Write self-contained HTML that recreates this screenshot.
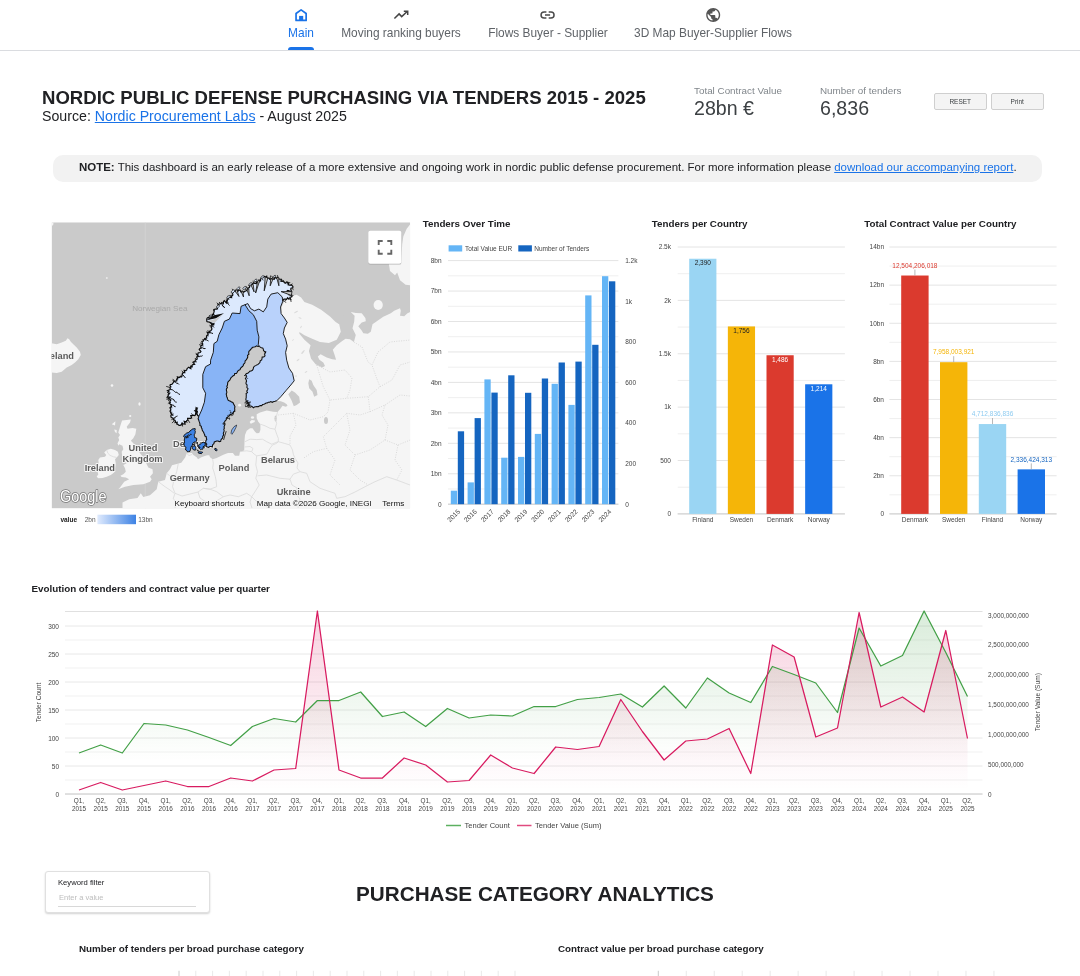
<!DOCTYPE html>
<html><head><meta charset="utf-8">
<style>
*{box-sizing:border-box;margin:0;padding:0}
html,body{width:1080px;height:976px;overflow:hidden;background:#fff;font-family:"Liberation Sans",sans-serif;color:#202124}
.abs{position:absolute}
#nav{position:absolute;left:0;top:0;width:1080px;height:51px;border-bottom:1px solid #dadce0;background:#fff}
.tab{position:absolute;top:0;height:50px;text-align:center;font-size:11.9px;color:#5f6368;white-space:nowrap}
.tab span{position:absolute;left:0;right:0;top:26px;line-height:14px;letter-spacing:0}
.tab svg{position:absolute;top:7px;left:50%;margin-left:-8px;width:16px;height:16px}
h1{position:absolute;left:42px;top:87px;font-size:18.57px;line-height:22px;font-weight:bold;letter-spacing:0;color:#202124;white-space:nowrap}
#src{position:absolute;left:42px;top:108px;font-size:14.18px;line-height:17px;color:#202124;white-space:nowrap}
a{color:#1a73e8;text-decoration:underline}
.kl{position:absolute;font-size:9.85px;color:#80868b;white-space:nowrap;line-height:12px}
.kv{position:absolute;font-size:19.6px;color:#3c4043;white-space:nowrap;line-height:22px}
.btn{position:absolute;top:92.5px;height:17px;width:52.5px;border:1px solid #cfcfcf;border-radius:2px;background:#f4f4f4;font-size:6.5px;color:#3c4043;text-align:center;line-height:15px}
#note{position:absolute;left:53px;top:155px;width:989px;height:27px;border-radius:10px;background:#f2f2f2;font-size:11.47px;line-height:25px;padding-left:26px;color:#202124;white-space:nowrap}
.ct{position:absolute;font-size:10px;font-weight:bold;color:#202124;white-space:nowrap;line-height:12px;letter-spacing:.1px}
</style></head><body>
<div id="wrap" style="position:absolute;left:0;top:0;width:1080px;height:976px;will-change:transform;transform:translateZ(0)"><div id="nav">
 <div class="tab" style="left:288px;width:26px;color:#1a73e8"><span>Main</span></div>
 <div class="abs" style="left:288px;top:47px;width:26px;height:3px;background:#1a73e8;border-radius:3px 3px 0 0"></div>
 <div class="tab" style="left:341px;width:120px"><span>Moving ranking buyers</span></div>
 <div class="tab" style="left:488px;width:120px"><span>Flows Buyer - Supplier</span></div>
 <div class="tab" style="left:634px;width:158px;font-size:11.9px"><span>3D Map Buyer-Supplier Flows</span></div>
</div>
<h1>NORDIC PUBLIC DEFENSE PURCHASING VIA TENDERS 2015 - 2025</h1>
<div id="src">Source: <a>Nordic Procurement Labs</a> - August 2025</div>
<div class="kl" style="left:694px;top:85px">Total Contract Value</div>
<div class="kv" style="left:694px;top:97px">28bn €</div>
<div class="kl" style="left:820px;top:85px">Number of tenders</div>
<div class="kv" style="left:820px;top:97px">6,836</div>
<div class="btn" style="left:934px">RESET</div>
<div class="btn" style="left:991px">Print</div>
<div id="note"><b>NOTE:</b> This dashboard is an early release of a more extensive and ongoing work in nordic public defense procurement. For more information please <a>download our accompanying report</a>.</div>
<svg class="abs" style="left:0;top:0" width="1080" height="976" viewBox="0 0 1080 976" font-family="Liberation Sans, sans-serif"><defs><clipPath id="mc"><rect x="51.6" y="222.3" width="358.59999999999997" height="286.09999999999997"/></clipPath></defs><g clip-path="url(#mc)"><rect x="51.6" y="222.3" width="358.59999999999997" height="286.09999999999997" fill="#cacaca"/>
<line x1="145.3" y1="222.3" x2="145.3" y2="508.4" stroke="#d6d6d6" stroke-width="0.6"/>
<path d="M122.5 508.4 L122.5 502.5 L129.2 499.2 L137.5 498.0 L140.8 493.3 L143.3 497.0 L150.0 495.3 L156.7 489.2 L158.3 481.7 L165.0 480.0 L166.7 473.3 L170.0 469.3 L172.0 465.3 L176.7 464.0 L181.3 462.7 L185.3 457.3 L186.7 453.3 L192.0 453.0 L193.0 454.7 L196.7 457.3 L198.0 459.3 L201.3 457.3 L204.7 456.0 L207.3 455.3 L209.3 455.3 L210.0 457.3 L212.7 459.3 L216.7 458.0 L223.3 454.7 L228.0 453.0 L232.9 452.9 L235.0 455.8 L239.2 455.8 L240.0 451.7 L244.2 450.4 L244.6 439.2 L245.0 435.0 L246.7 430.8 L250.0 428.3 L252.5 428.3 L255.0 431.7 L256.7 433.3 L259.2 432.9 L260.4 430.0 L260.4 424.2 L258.3 421.7 L256.7 418.3 L256.7 414.2 L260.0 412.5 L266.7 410.4 L273.3 411.7 L277.5 412.1 L280.8 408.3 L282.5 405.8 L285.8 406.7 L287.5 405.8 L286.7 404.2 L284.2 402.5 L280.8 401.3 L276.7 400.8 L275.0 380.0 L270.0 330.0 L285.0 300.0 L292.5 295.8 L296.7 294.8 L301.1 297.6 L304.4 302.0 L312.2 304.8 L321.1 309.8 L330.0 316.4 L335.6 322.0 L339.2 324.2 L350.8 312.1 L355.8 312.9 L361.7 313.3 L365.4 317.9 L365.8 321.3 L361.7 322.5 L358.3 326.3 L361.7 330.4 L363.3 333.3 L367.9 333.8 L370.8 331.7 L372.5 324.2 L377.5 320.8 L383.3 316.7 L390.8 313.3 L394.2 310.8 L400.0 308.3 L400.8 310.8 L400.0 315.8 L404.2 316.3 L407.5 313.3 L410.2 312.1 L410.2 508.4Z" fill="#f5f5f5" stroke="none" stroke-width="0" stroke-linejoin="round" />
<path d="M122.1 420.4 L126.7 420.0 L130.8 419.6 L130.0 422.5 L126.7 426.7 L127.5 428.8 L132.5 427.9 L136.3 428.8 L135.4 434.2 L133.3 438.3 L130.8 440.8 L133.3 443.3 L136.7 447.5 L140.0 453.3 L144.2 458.3 L146.7 464.2 L148.3 467.5 L152.5 469.2 L152.9 473.3 L150.0 476.7 L151.7 479.2 L150.0 481.7 L143.3 484.2 L133.3 485.0 L125.0 486.7 L118.3 489.2 L120.0 487.5 L124.2 481.7 L129.2 479.2 L125.8 477.5 L121.7 477.1 L120.4 475.8 L123.3 474.2 L125.8 471.7 L125.0 468.3 L123.3 465.0 L126.7 463.3 L122.5 460.0 L121.7 451.7 L123.3 449.2 L122.5 445.8 L119.2 444.2 L118.3 445.8 L117.5 443.3 L119.2 440.0 L118.3 437.5 L120.0 435.0 L118.3 432.5 L119.6 428.3 L120.8 424.2Z" fill="#f5f5f5" stroke="none" stroke-width="0" stroke-linejoin="round" />
<path d="M104.2 452.5 L106.7 450.0 L110.8 448.8 L115.0 450.0 L117.9 451.7 L118.8 455.0 L116.7 457.5 L115.0 459.2 L115.8 463.3 L115.0 468.3 L114.2 472.5 L110.8 475.0 L106.7 476.7 L102.5 477.9 L98.3 478.3 L96.7 476.7 L98.3 474.2 L97.5 471.7 L99.2 468.3 L98.3 460.0 L100.0 457.5 L105.0 456.7 L106.3 455.0Z" fill="#f5f5f5" stroke="none" stroke-width="0" stroke-linejoin="round" />
<path d="M51.6 343.3 L56.7 344.2 L61.7 342.5 L65.8 340.8 L67.5 338.3 L69.2 339.2 L70.8 341.7 L73.3 344.2 L76.7 347.5 L80.0 351.7 L80.8 355.0 L78.3 359.2 L75.0 362.5 L71.7 365.0 L66.7 367.5 L61.7 371.7 L56.7 373.0 L51.6 372.5Z" fill="#f5f5f5" stroke="none" stroke-width="0" stroke-linejoin="round" />
<path d="M410.2 224.2 L406.7 228.7 L403.3 236.4 L402.2 244.2 L401.1 264.2 L388.9 264.2 L390.0 270.9 L395.0 275.3 L397.2 272.6 L400.0 280.3 L405.6 284.8 L410.2 285.3Z" fill="#f5f5f5" stroke="none" stroke-width="0" stroke-linejoin="round" />
<path d="M249.6 422.1 L251.7 420.0 L255.0 420.4 L254.6 422.1 L250.8 423.8Z" fill="#f5f5f5" stroke="none" stroke-width="0" stroke-linejoin="round" />
<path d="M339.2 324.2 L340.8 331.7 L338.3 336.7 L336.7 339.8 L328.9 343.1 L320.0 342.0 L312.2 338.7 L304.4 335.3 L299.4 332.0 L299.4 333.7 L304.4 339.8 L310.6 345.3 L308.9 350.9 L311.1 358.7 L315.6 364.2 L322.2 367.6 L325.0 365.9 L323.3 362.6 L319.4 359.8 L317.8 356.4 L320.6 354.2 L326.7 357.6 L332.2 359.2 L336.1 359.8 L334.4 354.2 L332.8 349.8 L336.7 345.3 L342.2 340.9 L345.6 338.7 L350.0 339.2 L353.9 342.0 L355.8 335.0 L352.5 328.3 L354.2 321.7 L354.6 315.8 L350.8 312.1 L349.5 309.5 L337.5 321.5Z" fill="#cacaca" stroke="none" stroke-width="0" stroke-linejoin="round" />
<path d="M288.3 394.2 L291.7 390.4 L295.0 392.5 L299.2 396.7 L300.0 402.5 L296.7 405.0 L293.8 406.3 L291.7 400.8Z" fill="#cacaca" stroke="none" stroke-width="0" stroke-linejoin="round" />
<path d="M309.2 379.2 L311.7 380.8 L313.3 385.0 L316.7 390.0 L317.5 395.0 L314.2 396.7 L312.5 391.7 L309.2 388.3 L308.3 383.3Z" fill="#cacaca" stroke="none" stroke-width="0" stroke-linejoin="round" />
<ellipse cx="296" cy="312" rx="2.2" ry="0.6" fill="#dadada" transform="rotate(-30 296 312)"/>
<ellipse cx="300" cy="318" rx="1.6" ry="0.5" fill="#dadada" transform="rotate(20 300 318)"/>
<ellipse cx="303" cy="352" rx="2.5" ry="0.8" fill="#dadada" transform="rotate(-50 303 352)"/>
<ellipse cx="298" cy="360" rx="1.8" ry="0.6" fill="#dadada" transform="rotate(-40 298 360)"/>
<ellipse cx="306" cy="372" rx="1.5" ry="0.5" fill="#dadada" transform="rotate(-30 306 372)"/>
<ellipse cx="296" cy="376" rx="1.2" ry="0.5" fill="#dadada" transform="rotate(0 296 376)"/>
<ellipse cx="301" cy="327" rx="1.4" ry="0.5" fill="#dadada" transform="rotate(-60 301 327)"/>
<ellipse cx="293" cy="340" rx="1.2" ry="0.4" fill="#dadada" transform="rotate(-50 293 340)"/>
<ellipse cx="378.2" cy="305" rx="4.6" ry="5" fill="#f5f5f5"/>
<ellipse cx="252.5" cy="417.5" rx="1.6" ry="1.2" fill="#f5f5f5"/>
<ellipse cx="239.6" cy="405.2" rx="1.5" ry="1.4" fill="#f5f5f5"/>
<ellipse cx="275.6" cy="418.5" rx="1.1" ry="3" fill="#cacaca"/>
<ellipse cx="326" cy="420.5" rx="2" ry="3.5" fill="#cacaca"/>
<ellipse cx="106.8" cy="278" rx="1" ry="0.7" fill="#f5f5f5"/>
<ellipse cx="112" cy="385.5" rx="1.3" ry="1.3" fill="#f5f5f5"/>
<ellipse cx="139.5" cy="404" rx="1.1" ry="1.7" fill="#f5f5f5"/>
<ellipse cx="130.2" cy="416" rx="1.1" ry="0.9" fill="#f5f5f5"/>
<path d="M111.8 424.2 L115.4 421.3 L115.0 425.4Z" fill="#f5f5f5" stroke="none" stroke-width="0" stroke-linejoin="round" />
<path d="M114.2 429.6 L116.7 430.0 L116.7 433.3 L115.0 432.0Z" fill="#f5f5f5" stroke="none" stroke-width="0" stroke-linejoin="round" />
<path d="M51.6 222.3 L53.6 222.3 L53.2 225.0 L51.6 226.0Z" fill="#f5f5f5" stroke="none" stroke-width="0" stroke-linejoin="round" />
<path d="M260.4 424.2 L265.0 425.8 L270.0 428.3 L275.0 429.2" fill="none" stroke="#d9d9d9" stroke-width="0.8" stroke-linejoin="round"/>
<path d="M277.5 412.1 L276.3 416.7 L275.0 418.3 L276.7 423.3 L275.0 429.2" fill="none" stroke="#d9d9d9" stroke-width="0.8" stroke-linejoin="round"/>
<path d="M245.0 441.7 L250.0 439.2 L256.7 439.6 L262.5 439.2 L266.7 441.7 L271.7 444.2 L275.8 442.5 L278.3 441.7" fill="none" stroke="#d9d9d9" stroke-width="0.8" stroke-linejoin="round"/>
<path d="M275.0 429.2 L276.7 434.2 L278.3 438.3 L278.3 441.7" fill="none" stroke="#d9d9d9" stroke-width="0.8" stroke-linejoin="round"/>
<path d="M278.3 441.7 L276.7 443.3 L272.5 445.0 L270.0 448.3 L268.3 451.7 L266.7 454.2 L262.0 455.0 L256.7 455.8" fill="none" stroke="#d9d9d9" stroke-width="0.8" stroke-linejoin="round"/>
<path d="M240.0 451.7 L246.7 450.8 L251.7 451.7 L254.2 454.2 L256.7 455.8" fill="none" stroke="#d9d9d9" stroke-width="0.8" stroke-linejoin="round"/>
<path d="M244.5 447.0 L250.0 446.5 L253.0 448.5 L251.7 451.7" fill="none" stroke="#d9d9d9" stroke-width="0.8" stroke-linejoin="round"/>
<path d="M278.3 441.7 L284.2 443.3 L290.0 445.0 L292.5 450.0 L293.3 454.2 L295.0 458.3 L298.0 463.0 L297.0 468.0 L300.0 471.7" fill="none" stroke="#d9d9d9" stroke-width="0.8" stroke-linejoin="round"/>
<path d="M256.7 455.8 L255.8 465.0 L257.5 471.7 L255.8 478.3 L259.2 485.0 L255.0 491.7 L251.7 496.7" fill="none" stroke="#d9d9d9" stroke-width="0.8" stroke-linejoin="round"/>
<path d="M257.5 475.8 L266.7 475.0 L280.0 478.3 L290.0 479.2 L293.3 474.2 L300.0 471.7 L306.7 473.3 L310.0 481.7 L320.0 488.3 L330.0 491.7 L335.0 493.3" fill="none" stroke="#d9d9d9" stroke-width="0.8" stroke-linejoin="round"/>
<path d="M335.0 493.3 L336.7 498.3 L345.0 496.7 L355.0 492.0 L368.3 485.0 L375.0 481.7 L386.7 476.7 L396.7 480.0 L410.0 485.0" fill="none" stroke="#d9d9d9" stroke-width="0.8" stroke-linejoin="round"/>
<path d="M212.7 459.3 L213.3 463.3 L212.7 468.0 L214.0 472.0 L215.3 476.7 L216.0 480.0 L216.7 486.7 L210.0 489.2 L203.3 488.3" fill="none" stroke="#d9d9d9" stroke-width="0.8" stroke-linejoin="round"/>
<path d="M178.3 463.3 L176.7 471.7 L174.2 478.3 L172.5 486.7 L175.0 493.3 L173.3 498.3 L176.0 503.0 L175.0 508.0" fill="none" stroke="#d9d9d9" stroke-width="0.8" stroke-linejoin="round"/>
<path d="M158.3 481.7 L165.0 486.7 L170.0 490.0 L174.2 493.3" fill="none" stroke="#d9d9d9" stroke-width="0.8" stroke-linejoin="round"/>
<path d="M166.7 473.3 L170.0 476.0 L174.2 478.3" fill="none" stroke="#d9d9d9" stroke-width="0.8" stroke-linejoin="round"/>
<path d="M203.3 488.3 L210.0 489.2 L216.7 491.7 L223.3 496.7 L230.0 495.0 L238.3 496.7 L246.7 493.3 L251.7 496.7 L256.0 501.0 L262.0 503.0 L268.0 508.0" fill="none" stroke="#d9d9d9" stroke-width="0.8" stroke-linejoin="round"/>
<path d="M203.3 488.3 L198.0 492.0 L200.0 498.0 L206.0 502.0 L212.0 503.0 L218.0 500.0 L223.3 496.7" fill="none" stroke="#d9d9d9" stroke-width="0.8" stroke-linejoin="round"/>
<path d="M175.0 493.3 L182.0 496.0 L190.0 494.0 L198.0 492.0" fill="none" stroke="#d9d9d9" stroke-width="0.8" stroke-linejoin="round"/>
<path d="M186.7 453.3 L189.0 455.5 L192.0 454.5" fill="none" stroke="#d9d9d9" stroke-width="0.8" stroke-linejoin="round"/>
<path d="M106.7 450.0 L107.9 453.3 L110.0 455.4 L113.3 456.7 L116.7 457.5" fill="none" stroke="#d9d9d9" stroke-width="0.8" stroke-linejoin="round"/>
<path d="M251.7 496.7 L250.0 502.0 L252.0 508.0" fill="none" stroke="#d9d9d9" stroke-width="0.8" stroke-linejoin="round"/>
<path d="M290.0 479.2 L292.0 485.0 L297.0 488.0 L296.0 494.0 L300.0 499.0 L298.0 508.0" fill="none" stroke="#d9d9d9" stroke-width="0.8" stroke-linejoin="round"/>
<path d="M316.7 365.0 L323.3 386.7 L330.0 400.0 L346.7 398.3 L368.3 396.7 L380.0 386.7 L376.7 378.3" fill="none" stroke="#d2d2d2" stroke-width="0.8" stroke-linejoin="round" stroke-dasharray="1 1.4"/>
<path d="M278.3 415.0 L293.3 413.3 L310.0 420.0 L323.3 416.7" fill="none" stroke="#d2d2d2" stroke-width="0.8" stroke-linejoin="round" stroke-dasharray="1 1.4"/>
<path d="M368.3 396.7 L370.0 411.7 L360.0 415.0 L346.7 413.3 L340.0 420.0 L323.3 436.7 L326.7 448.3 L313.3 451.7 L303.3 458.3" fill="none" stroke="#d2d2d2" stroke-width="0.8" stroke-linejoin="round" stroke-dasharray="1 1.4"/>
<path d="M330.0 400.0 L328.0 412.0 L323.3 416.7" fill="none" stroke="#d2d2d2" stroke-width="0.8" stroke-linejoin="round" stroke-dasharray="1 1.4"/>
<path d="M346.7 413.3 L350.0 430.0 L345.0 445.0 L355.0 455.0 L350.0 470.0 L360.0 480.0 L368.3 485.0" fill="none" stroke="#d2d2d2" stroke-width="0.8" stroke-linejoin="round" stroke-dasharray="1 1.4"/>
<path d="M370.0 411.7 L385.0 405.0 L400.0 395.0 L410.2 396.0" fill="none" stroke="#d2d2d2" stroke-width="0.8" stroke-linejoin="round" stroke-dasharray="1 1.4"/>
<path d="M380.0 386.7 L392.0 380.0 L400.0 365.0 L410.2 362.0" fill="none" stroke="#d2d2d2" stroke-width="0.8" stroke-linejoin="round" stroke-dasharray="1 1.4"/>
<path d="M376.7 378.3 L372.0 365.0 L378.0 352.0 L390.0 342.0 L410.2 340.0" fill="none" stroke="#d2d2d2" stroke-width="0.8" stroke-linejoin="round" stroke-dasharray="1 1.4"/>
<path d="M355.0 455.0 L370.0 450.0 L385.0 440.0 L398.0 445.0 L410.2 440.0" fill="none" stroke="#d2d2d2" stroke-width="0.8" stroke-linejoin="round" stroke-dasharray="1 1.4"/>
<path d="M385.0 440.0 L388.0 425.0 L382.0 415.0 L385.0 405.0" fill="none" stroke="#d2d2d2" stroke-width="0.8" stroke-linejoin="round" stroke-dasharray="1 1.4"/>
<path d="M326.7 448.3 L335.0 460.0 L330.0 475.0 L340.0 485.0" fill="none" stroke="#d2d2d2" stroke-width="0.8" stroke-linejoin="round" stroke-dasharray="1 1.4"/>
<path d="M293.3 413.3 L296.0 425.0 L290.0 436.0 L290.0 445.0" fill="none" stroke="#d2d2d2" stroke-width="0.8" stroke-linejoin="round" stroke-dasharray="1 1.4"/>
<path d="M398.0 445.0 L395.0 460.0 L402.0 470.0 L396.7 480.0" fill="none" stroke="#d2d2d2" stroke-width="0.8" stroke-linejoin="round" stroke-dasharray="1 1.4"/>
<path d="M353.9 342.0 L362.0 347.0 L368.0 362.0 L372.0 365.0" fill="none" stroke="#d2d2d2" stroke-width="0.8" stroke-linejoin="round" stroke-dasharray="1 1.4"/>
<path d="M316.7 365.0 L330.0 372.0 L345.0 370.0 L352.0 378.0 L350.0 390.0 L346.7 398.3" fill="none" stroke="#d2d2d2" stroke-width="0.8" stroke-linejoin="round" stroke-dasharray="1 1.4"/>
<text x="173" y="447" font-size="9.25" font-weight="bold" text-anchor="start" fill="#5b5b5b" stroke="#f5f5f5" stroke-width="2" paint-order="stroke" stroke-linejoin="round">Denmark</text>
<path d="M198.9 416.1 L197.7 415.6 L197.2 414.4 L196.0 413.5 L197.3 412.1 L195.4 411.3 L196.6 410.0 L195.9 409.0 L196.1 407.8 L197.3 409.0 L195.9 410.0 L197.2 411.2 L195.9 412.2 L195.6 413.3 L195.5 414.9 L194.6 415.5 L193.2 415.2 L192.2 415.6 L190.8 415.6 L191.5 417.9 L190.6 418.4 L189.0 418.3 L187.6 418.3 L187.8 420.0 L186.7 420.6 L186.2 421.8 L184.2 421.3 L185.1 424.1 L183.3 423.9 L182.1 422.9 L181.2 424.7 L180.1 425.3 L179.0 425.4 L177.8 424.4 L176.7 424.0 L177.2 422.2 L175.1 422.6 L175.4 421.1 L174.9 420.2 L173.6 419.9 L173.3 418.9 L173.0 417.9 L171.3 417.5 L170.9 416.5 L170.9 415.4 L171.9 413.9 L170.8 413.2 L170.6 412.2 L170.0 411.1 L170.9 410.0 L170.5 408.9 L170.0 407.7 L171.5 406.6 L171.2 405.5 L170.6 404.4 L169.6 403.6 L170.3 402.4 L169.9 401.4 L170.7 400.2 L170.0 399.3 L168.5 398.7 L170.2 397.2 L167.4 396.9 L168.3 395.6 L168.2 394.6 L169.4 393.7 L167.8 392.4 L168.9 391.6 L167.8 390.4 L169.8 389.7 L170.3 388.7 L169.9 387.6 L170.9 386.8 L170.0 385.6 L170.3 384.5 L171.9 384.5 L172.4 383.5 L173.1 382.8 L173.6 381.8 L174.4 381.1 L175.8 381.2 L176.8 380.8 L176.7 379.0 L177.8 378.8 L177.4 376.8 L179.5 377.5 L180.1 376.7 L181.6 376.9 L182.0 375.8 L182.2 374.4 L182.5 373.2 L183.5 372.7 L184.8 372.6 L184.2 370.4 L185.9 370.7 L186.7 370.0 L187.1 368.6 L187.9 367.9 L188.8 367.2 L190.8 368.5 L190.7 366.3 L192.2 366.7 L192.0 365.4 L192.8 364.6 L194.6 364.3 L193.0 362.3 L194.4 361.8 L195.2 361.0 L195.5 360.0 L197.0 359.4 L197.2 358.3 L196.7 356.9 L198.2 356.4 L197.1 354.6 L197.9 353.8 L198.3 352.8 L200.2 352.5 L200.9 351.6 L199.2 349.5 L199.7 348.6 L201.1 348.0 L200.7 346.7 L201.1 345.7 L202.2 345.0 L202.8 344.1 L202.3 342.8 L201.9 341.5 L203.4 341.0 L203.7 340.0 L204.4 339.1 L205.1 338.3 L206.7 338.1 L206.5 336.8 L206.7 335.7 L207.5 335.0 L208.2 334.2 L207.2 332.3 L209.9 332.8 L209.4 331.3 L210.7 330.8 L211.5 329.9 L211.9 328.9 L211.4 327.3 L212.0 326.3 L211.7 324.9 L213.7 324.8 L213.9 323.6 L212.4 324.3 L211.5 323.8 L210.8 322.9 L209.8 322.5 L209.2 321.6 L207.9 321.9 L206.9 321.5 L206.7 319.7 L207.0 318.2 L207.8 317.5 L209.2 317.5 L209.5 316.0 L211.8 317.5 L212.3 316.2 L212.4 314.5 L213.9 314.7 L213.4 313.4 L213.9 312.4 L214.2 311.3 L213.7 310.0 L215.0 309.1 L216.5 309.2 L217.5 308.8 L217.2 307.0 L218.0 306.3 L218.0 304.7 L218.8 304.1 L220.0 303.9 L221.1 303.6 L221.8 302.6 L223.3 303.7 L223.5 301.5 L224.3 300.7 L226.3 302.9 L226.7 301.3 L227.4 300.6 L227.1 299.1 L228.7 299.0 L228.1 297.3 L229.9 297.4 L231.6 297.5 L231.1 295.8 L232.6 295.7 L232.8 294.6 L232.5 293.0 L233.4 292.3 L233.5 291.2 L235.6 291.5 L235.6 290.2 L236.7 290.5 L237.7 291.4 L239.0 290.2 L240.1 290.1 L240.9 292.0 L242.2 291.3 L243.7 292.3 L244.5 291.6 L245.3 291.1 L246.3 290.7 L247.1 290.1 L247.8 289.1 L248.0 287.8 L249.3 287.7 L249.7 286.6 L249.7 285.2 L250.5 284.4 L252.2 284.7 L252.7 283.6 L253.5 283.0 L255.0 283.5 L256.3 283.6 L256.3 281.8 L258.0 282.4 L258.9 282.0 L258.9 280.2 L260.5 280.9 L260.7 278.9 L261.4 278.0 L262.4 277.5 L263.4 276.9 L264.4 276.5 L265.9 277.1 L266.7 276.3 L267.1 278.1 L268.9 278.0 L269.7 279.3 L271.1 278.7 L272.2 279.1 L273.3 279.2 L274.4 279.2 L274.5 276.8 L276.1 278.1 L277.3 278.4 L277.8 276.9 L277.9 278.2 L278.7 278.9 L280.0 279.1 L281.4 279.2 L280.9 281.2 L282.2 281.3 L283.4 281.0 L284.3 282.6 L285.3 283.3 L286.7 281.9 L287.8 282.4 L288.7 283.0 L288.2 284.9 L289.4 285.2 L291.4 284.9 L292.2 285.7 L292.9 286.5 L292.8 288.0 L291.2 288.0 L290.7 289.1 L291.5 291.2 L290.0 291.3 L288.6 290.7 L287.3 290.7 L286.7 292.4 L287.2 293.5 L288.7 293.6 L289.1 294.8 L290.8 294.6 L291.8 295.1 L291.7 296.9 L289.9 297.4 L290.6 299.1 L289.6 298.7 L288.6 299.0 L287.6 297.8 L286.6 299.3 L285.6 299.1 L284.0 299.0 L283.1 299.8 L282.8 301.3 L282.2 296.9 L277.8 292.7 L271.1 294.1 L267.8 299.1 L266.7 306.9 L263.3 311.9 L258.9 309.1 L254.4 310.8 L250.6 308.6 L247.8 303.6 L245.0 304.7 L241.1 306.3 L240.0 313.6 L232.2 313.0 L229.4 319.1 L224.4 321.3 L222.2 328.0 L218.9 334.7 L217.2 341.3 L213.9 343.6 L213.3 352.4 L210.6 360.2 L210.5 364.0 L205.6 366.7 L202.8 374.4 L202.8 387.8 L205.6 393.3 L204.4 402.2 L201.7 410.0 L198.9 416.1Z" fill="#dce9fd" stroke="none" stroke-width="0" stroke-linejoin="round" />
<path d="M245.0 304.7 L248.9 310.8 L253.3 314.7 L256.7 321.3 L257.2 330.2 L258.9 336.9 L258.3 344.7 L259.4 346.3 L258.0 346.4 L256.7 345.8 L255.3 346.7 L253.8 347.1 L252.2 347.4 L251.7 348.6 L250.5 349.3 L250.0 350.5 L248.9 351.3 L248.7 352.7 L248.9 354.2 L247.5 355.4 L247.8 356.9 L247.4 358.1 L246.7 359.1 L246.0 360.1 L245.1 361.0 L245.0 362.4 L244.5 363.5 L243.4 364.3 L243.3 365.6 L242.4 366.5 L241.4 367.4 L240.5 368.3 L240.1 369.7 L238.8 370.2 L237.8 371.1 L237.2 372.3 L236.4 373.5 L234.7 373.6 L234.4 375.2 L233.2 375.8 L232.2 376.7 L231.1 377.6 L230.4 378.9 L229.8 380.2 L228.7 381.1 L227.8 382.2 L227.6 383.6 L227.5 385.0 L226.8 386.2 L227.4 387.6 L226.5 388.7 L226.3 390.0 L226.7 391.3 L226.8 392.7 L226.2 394.0 L226.6 395.4 L226.7 396.7 L227.3 397.8 L227.6 398.9 L228.1 400.1 L229.2 400.8 L230.5 401.3 L231.6 402.1 L232.9 402.5 L233.6 403.9 L234.3 405.3 L235.0 406.7 L234.6 408.0 L234.8 409.4 L234.6 410.8 L233.6 411.9 L232.7 413.1 L231.7 414.2 L230.3 414.5 L229.4 415.6 L228.2 416.3 L227.5 417.5 L226.3 418.2 L226.3 419.8 L225.3 420.6 L224.6 421.7 L223.8 422.9 L223.8 424.1 L224.7 425.5 L224.0 426.7 L224.4 428.1 L223.8 429.3 L224.2 430.7 L223.8 432.0 L223.3 433.3 L223.7 434.9 L222.7 436.4 L222.7 438.0 L221.7 438.9 L220.9 439.9 L220.7 441.3 L219.3 441.6 L218.0 441.0 L216.7 441.0 L215.5 441.5 L214.3 442.0 L213.9 443.6 L212.7 444.7 L212.3 447.0 L211.1 446.6 L209.8 446.5 L208.7 447.3 L206.7 446.7 L206.1 445.6 L206.8 444.2 L205.8 443.2 L205.7 442.0 L205.9 440.7 L206.8 439.4 L206.3 438.0 L206.2 436.7 L204.8 436.0 L204.7 434.7 L204.1 433.5 L203.6 432.3 L202.9 431.2 L202.2 430.1 L202.0 428.7 L201.3 427.6 L201.3 426.2 L199.9 425.4 L200.0 424.0 L199.6 422.6 L199.1 421.4 L198.7 420.0 L198.1 418.7 L198.6 417.4 L198.9 416.1 L201.7 410.0 L204.4 402.2 L205.6 393.3 L202.8 387.8 L202.8 374.4 L205.6 366.7 L210.5 364.0 L210.6 360.2 L213.3 352.4 L213.9 343.6 L217.2 341.3 L218.9 334.7 L222.2 328.0 L224.4 321.3 L229.4 319.1 L232.2 313.0 L240.0 313.6 L241.1 306.3 L245.0 304.7Z" fill="#88b4f6" stroke="none" stroke-width="0" stroke-linejoin="round" />
<path d="M282.8 301.3 L282.2 296.9 L277.8 292.7 L271.1 294.1 L267.8 299.1 L266.7 306.9 L263.3 311.9 L258.9 309.1 L254.4 310.8 L250.6 308.6 L247.8 303.6 L245.0 304.7 L248.9 310.8 L253.3 314.7 L256.7 321.3 L257.2 330.2 L258.9 336.9 L258.3 344.7 L259.4 346.3 L260.3 347.1 L261.3 347.7 L262.7 347.9 L263.3 349.1 L263.5 350.6 L264.5 351.5 L265.6 352.4 L264.6 354.0 L265.0 355.8 L263.8 356.9 L262.2 356.9 L262.0 358.4 L261.7 359.9 L260.2 360.9 L260.0 362.4 L259.1 363.5 L258.1 364.4 L256.8 364.9 L255.6 365.6 L254.3 366.3 L253.5 367.5 L253.2 369.1 L252.4 370.3 L251.1 371.1 L249.7 371.3 L248.8 372.5 L247.8 373.3 L246.6 373.6 L245.6 374.4 L246.3 375.7 L246.4 377.0 L245.6 378.3 L246.0 379.6 L246.6 380.9 L246.1 382.2 L246.0 383.8 L247.1 385.0 L247.0 386.3 L246.9 387.5 L248.0 388.7 L247.5 390.0 L246.7 391.1 L247.5 392.6 L246.1 393.6 L246.3 395.0 L246.2 396.4 L246.2 397.8 L245.8 399.2 L246.2 400.4 L246.3 401.8 L247.6 402.6 L248.3 403.6 L248.3 405.0 L249.5 405.8 L251.0 406.1 L252.3 406.7 L253.3 407.9 L254.4 407.1 L255.7 406.7 L257.0 406.6 L258.3 406.7 L259.3 406.0 L260.4 405.5 L261.8 405.6 L262.6 404.5 L263.9 404.3 L265.0 403.8 L266.1 403.1 L267.3 403.0 L268.4 402.2 L269.7 402.3 L270.8 401.6 L272.2 402.3 L273.3 401.7 L275.0 401.3 L276.7 400.8 L280.8 396.7 L285.8 390.8 L290.8 385.0 L294.2 380.8 L292.5 373.3 L288.9 368.0 L286.7 360.2 L285.6 352.4 L287.2 345.8 L285.6 339.1 L283.3 333.6 L284.4 328.0 L287.2 322.4 L284.4 318.0 L281.1 313.6 L280.6 306.9 L282.8 301.3Z" fill="#b9d2fb" stroke="none" stroke-width="0" stroke-linejoin="round" />
<path d="M198.9 416.1 L197.7 415.6 L197.2 414.4 L196.0 413.5 L197.3 412.1 L195.4 411.3 L196.6 410.0 L195.9 409.0 L196.1 407.8 L197.3 409.0 L195.9 410.0 L197.2 411.2 L195.9 412.2 L195.6 413.3 L195.5 414.9 L194.6 415.5 L193.2 415.2 L192.2 415.6 L190.8 415.6 L191.5 417.9 L190.6 418.4 L189.0 418.3 L187.6 418.3 L187.8 420.0 L186.7 420.6 L186.2 421.8 L184.2 421.3 L185.1 424.1 L183.3 423.9 L182.1 422.9 L181.2 424.7 L180.1 425.3 L179.0 425.4 L177.8 424.4 L176.7 424.0 L177.2 422.2 L175.1 422.6 L175.4 421.1 L174.9 420.2 L173.6 419.9 L173.3 418.9 L173.0 417.9 L171.3 417.5 L170.9 416.5 L170.9 415.4 L171.9 413.9 L170.8 413.2 L170.6 412.2 L170.0 411.1 L170.9 410.0 L170.5 408.9 L170.0 407.7 L171.5 406.6 L171.2 405.5 L170.6 404.4 L169.6 403.6 L170.3 402.4 L169.9 401.4 L170.7 400.2 L170.0 399.3 L168.5 398.7 L170.2 397.2 L167.4 396.9 L168.3 395.6 L168.2 394.6 L169.4 393.7 L167.8 392.4 L168.9 391.6 L167.8 390.4 L169.8 389.7 L170.3 388.7 L169.9 387.6 L170.9 386.8 L170.0 385.6 L170.3 384.5 L171.9 384.5 L172.4 383.5 L173.1 382.8 L173.6 381.8 L174.4 381.1 L175.8 381.2 L176.8 380.8 L176.7 379.0 L177.8 378.8 L177.4 376.8 L179.5 377.5 L180.1 376.7 L181.6 376.9 L182.0 375.8 L182.2 374.4 L182.5 373.2 L183.5 372.7 L184.8 372.6 L184.2 370.4 L185.9 370.7 L186.7 370.0 L187.1 368.6 L187.9 367.9 L188.8 367.2 L190.8 368.5 L190.7 366.3 L192.2 366.7 L192.0 365.4 L192.8 364.6 L194.6 364.3 L193.0 362.3 L194.4 361.8 L195.2 361.0 L195.5 360.0 L197.0 359.4 L197.2 358.3 L196.7 356.9 L198.2 356.4 L197.1 354.6 L197.9 353.8 L198.3 352.8 L200.2 352.5 L200.9 351.6 L199.2 349.5 L199.7 348.6 L201.1 348.0 L200.7 346.7 L201.1 345.7 L202.2 345.0 L202.8 344.1 L202.3 342.8 L201.9 341.5 L203.4 341.0 L203.7 340.0 L204.4 339.1 L205.1 338.3 L206.7 338.1 L206.5 336.8 L206.7 335.7 L207.5 335.0 L208.2 334.2 L207.2 332.3 L209.9 332.8 L209.4 331.3 L210.7 330.8 L211.5 329.9 L211.9 328.9 L211.4 327.3 L212.0 326.3 L211.7 324.9 L213.7 324.8 L213.9 323.6 L212.4 324.3 L211.5 323.8 L210.8 322.9 L209.8 322.5 L209.2 321.6 L207.9 321.9 L206.9 321.5 L206.7 319.7 L207.0 318.2 L207.8 317.5 L209.2 317.5 L209.5 316.0 L211.8 317.5 L212.3 316.2 L212.4 314.5 L213.9 314.7 L213.4 313.4 L213.9 312.4 L214.2 311.3 L213.7 310.0 L215.0 309.1 L216.5 309.2 L217.5 308.8 L217.2 307.0 L218.0 306.3 L218.0 304.7 L218.8 304.1 L220.0 303.9 L221.1 303.6 L221.8 302.6 L223.3 303.7 L223.5 301.5 L224.3 300.7 L226.3 302.9 L226.7 301.3 L227.4 300.6 L227.1 299.1 L228.7 299.0 L228.1 297.3 L229.9 297.4 L231.6 297.5 L231.1 295.8 L232.6 295.7 L232.8 294.6 L232.5 293.0 L233.4 292.3 L233.5 291.2 L235.6 291.5 L235.6 290.2 L236.7 290.5 L237.7 291.4 L239.0 290.2 L240.1 290.1 L240.9 292.0 L242.2 291.3 L243.7 292.3 L244.5 291.6 L245.3 291.1 L246.3 290.7 L247.1 290.1 L247.8 289.1 L248.0 287.8 L249.3 287.7 L249.7 286.6 L249.7 285.2 L250.5 284.4 L252.2 284.7 L252.7 283.6 L253.5 283.0 L255.0 283.5 L256.3 283.6 L256.3 281.8 L258.0 282.4 L258.9 282.0 L258.9 280.2 L260.5 280.9 L260.7 278.9 L261.4 278.0 L262.4 277.5 L263.4 276.9 L264.4 276.5 L265.9 277.1 L266.7 276.3 L267.1 278.1 L268.9 278.0 L269.7 279.3 L271.1 278.7 L272.2 279.1 L273.3 279.2 L274.4 279.2 L274.5 276.8 L276.1 278.1 L277.3 278.4 L277.8 276.9 L277.9 278.2 L278.7 278.9 L280.0 279.1 L281.4 279.2 L280.9 281.2 L282.2 281.3 L283.4 281.0 L284.3 282.6 L285.3 283.3 L286.7 281.9 L287.8 282.4 L288.7 283.0 L288.2 284.9 L289.4 285.2 L291.4 284.9 L292.2 285.7 L292.9 286.5 L292.8 288.0 L291.2 288.0 L290.7 289.1 L291.5 291.2 L290.0 291.3 L288.6 290.7 L287.3 290.7 L286.7 292.4 L287.2 293.5 L288.7 293.6 L289.1 294.8 L290.8 294.6 L291.8 295.1 L291.7 296.9 L289.9 297.4 L290.6 299.1 L289.6 298.7 L288.6 299.0 L287.6 297.8 L286.6 299.3 L285.6 299.1 L284.0 299.0 L283.1 299.8 L282.8 301.3" fill="none" stroke="#0d0d0d" stroke-width="1.2"/>
<path d="M259.4 346.3 L258.0 346.4 L256.7 345.8 L255.3 346.7 L253.8 347.1 L252.2 347.4 L251.7 348.6 L250.5 349.3 L250.0 350.5 L248.9 351.3 L248.7 352.7 L248.9 354.2 L247.5 355.4 L247.8 356.9 L247.4 358.1 L246.7 359.1 L246.0 360.1 L245.1 361.0 L245.0 362.4 L244.5 363.5 L243.4 364.3 L243.3 365.6 L242.4 366.5 L241.4 367.4 L240.5 368.3 L240.1 369.7 L238.8 370.2 L237.8 371.1 L237.2 372.3 L236.4 373.5 L234.7 373.6 L234.4 375.2 L233.2 375.8 L232.2 376.7 L231.1 377.6 L230.4 378.9 L229.8 380.2 L228.7 381.1 L227.8 382.2 L227.6 383.6 L227.5 385.0 L226.8 386.2 L227.4 387.6 L226.5 388.7 L226.3 390.0 L226.7 391.3 L226.8 392.7 L226.2 394.0 L226.6 395.4 L226.7 396.7 L227.3 397.8 L227.6 398.9 L228.1 400.1 L229.2 400.8 L230.5 401.3 L231.6 402.1 L232.9 402.5 L233.6 403.9 L234.3 405.3 L235.0 406.7 L234.6 408.0 L234.8 409.4 L234.6 410.8 L233.6 411.9 L232.7 413.1 L231.7 414.2 L230.3 414.5 L229.4 415.6 L228.2 416.3 L227.5 417.5 L226.3 418.2 L226.3 419.8 L225.3 420.6 L224.6 421.7 L223.8 422.9 L223.8 424.1 L224.7 425.5 L224.0 426.7 L224.4 428.1 L223.8 429.3 L224.2 430.7 L223.8 432.0 L223.3 433.3 L223.7 434.9 L222.7 436.4 L222.7 438.0 L221.7 438.9 L220.9 439.9 L220.7 441.3 L219.3 441.6 L218.0 441.0 L216.7 441.0 L215.5 441.5 L214.3 442.0 L213.9 443.6 L212.7 444.7 L212.3 447.0 L211.1 446.6 L209.8 446.5 L208.7 447.3 L206.7 446.7 L206.1 445.6 L206.8 444.2 L205.8 443.2 L205.7 442.0 L205.9 440.7 L206.8 439.4 L206.3 438.0 L206.2 436.7 L204.8 436.0 L204.7 434.7 L204.1 433.5 L203.6 432.3 L202.9 431.2 L202.2 430.1 L202.0 428.7 L201.3 427.6 L201.3 426.2 L199.9 425.4 L200.0 424.0 L199.6 422.6 L199.1 421.4 L198.7 420.0 L198.1 418.7 L198.6 417.4 L198.9 416.1" fill="none" stroke="#0d0d0d" stroke-width="1.05"/>
<path d="M259.4 346.3 L260.3 347.1 L261.3 347.7 L262.7 347.9 L263.3 349.1 L263.5 350.6 L264.5 351.5 L265.6 352.4 L264.6 354.0 L265.0 355.8 L263.8 356.9 L262.2 356.9 L262.0 358.4 L261.7 359.9 L260.2 360.9 L260.0 362.4 L259.1 363.5 L258.1 364.4 L256.8 364.9 L255.6 365.6 L254.3 366.3 L253.5 367.5 L253.2 369.1 L252.4 370.3 L251.1 371.1 L249.7 371.3 L248.8 372.5 L247.8 373.3 L246.6 373.6 L245.6 374.4 L246.3 375.7 L246.4 377.0 L245.6 378.3 L246.0 379.6 L246.6 380.9 L246.1 382.2 L246.0 383.8 L247.1 385.0 L247.0 386.3 L246.9 387.5 L248.0 388.7 L247.5 390.0 L246.7 391.1 L247.5 392.6 L246.1 393.6 L246.3 395.0 L246.2 396.4 L246.2 397.8 L245.8 399.2 L246.2 400.4 L246.3 401.8 L247.6 402.6 L248.3 403.6 L248.3 405.0 L249.5 405.8 L251.0 406.1 L252.3 406.7 L253.3 407.9 L254.4 407.1 L255.7 406.7 L257.0 406.6 L258.3 406.7 L259.3 406.0 L260.4 405.5 L261.8 405.6 L262.6 404.5 L263.9 404.3 L265.0 403.8 L266.1 403.1 L267.3 403.0 L268.4 402.2 L269.7 402.3 L270.8 401.6 L272.2 402.3 L273.3 401.7 L275.0 401.3 L276.7 400.8" fill="none" stroke="#0d0d0d" stroke-width="1.05"/>
<path d="M282.8 301.3 L282.2 296.9 L277.8 292.7 L271.1 294.1 L267.8 299.1 L266.7 306.9 L263.3 311.9 L258.9 309.1 L254.4 310.8 L250.6 308.6 L247.8 303.6 L245.0 304.7" fill="none" stroke="#0d0d0d" stroke-width="0.9"/>
<path d="M245.0 304.7 L241.1 306.3 L240.0 313.6 L232.2 313.0 L229.4 319.1 L224.4 321.3 L222.2 328.0 L218.9 334.7 L217.2 341.3 L213.9 343.6 L213.3 352.4 L210.6 360.2 L210.5 364.0 L205.6 366.7 L202.8 374.4 L202.8 387.8 L205.6 393.3 L204.4 402.2 L201.7 410.0 L198.9 416.1" fill="none" stroke="#0d0d0d" stroke-width="0.9"/>
<path d="M245.0 304.7 L248.9 310.8 L253.3 314.7 L256.7 321.3 L257.2 330.2 L258.9 336.9 L258.3 344.7 L259.4 346.3" fill="none" stroke="#0d0d0d" stroke-width="0.9"/>
<path d="M276.7 400.8 L280.8 396.7 L285.8 390.8 L290.8 385.0 L294.2 380.8 L292.5 373.3 L288.9 368.0 L286.7 360.2 L285.6 352.4 L287.2 345.8 L285.6 339.1 L283.3 333.6 L284.4 328.0 L287.2 322.4 L284.4 318.0 L281.1 313.6 L280.6 306.9 L282.8 301.3" fill="none" stroke="#0d0d0d" stroke-width="0.9"/>
<path d="M197.0 413.1 L197.6 413.5" fill="none" stroke="#0d0d0d" stroke-width="0.8"/>
<path d="M196.7 411.5 L197.8 411.4" fill="none" stroke="#0d0d0d" stroke-width="0.8"/>
<path d="M196.4 409.9 L193.9 410.7" fill="none" stroke="#0d0d0d" stroke-width="0.8"/>
<path d="M195.8 411.3 L197.0 410.9" fill="none" stroke="#0d0d0d" stroke-width="0.8"/>
<path d="M196.1 408.2 L198.1 407.8" fill="none" stroke="#0d0d0d" stroke-width="0.8"/>
<path d="M192.7 415.2 L191.4 413.4" fill="none" stroke="#0d0d0d" stroke-width="0.8"/>
<path d="M190.9 416.9 L192.2 417.9" fill="none" stroke="#0d0d0d" stroke-width="0.8"/>
<path d="M188.0 419.8 L189.8 422.8" fill="none" stroke="#0d0d0d" stroke-width="0.8"/>
<path d="M186.4 421.2 L187.4 422.5" fill="none" stroke="#0d0d0d" stroke-width="0.8"/>
<path d="M185.5 422.0 L185.7 422.7" fill="none" stroke="#0d0d0d" stroke-width="0.8"/>
<path d="M182.8 423.9 L182.2 425.5" fill="none" stroke="#0d0d0d" stroke-width="0.8"/>
<path d="M182.0 424.0 L182.6 426.5" fill="none" stroke="#0d0d0d" stroke-width="0.8"/>
<path d="M174.6 420.5 L172.0 423.1" fill="none" stroke="#0d0d0d" stroke-width="0.8"/>
<path d="M177.1 423.6 L177.6 423.1" fill="none" stroke="#0d0d0d" stroke-width="0.8"/>
<path d="M173.8 419.5 L175.4 418.0" fill="none" stroke="#0d0d0d" stroke-width="0.8"/>
<path d="M171.9 415.4 L173.5 415.4" fill="none" stroke="#0d0d0d" stroke-width="0.8"/>
<path d="M171.7 415.0 L173.7 413.9" fill="none" stroke="#0d0d0d" stroke-width="0.8"/>
<path d="M173.2 418.7 L171.4 419.7" fill="none" stroke="#0d0d0d" stroke-width="0.8"/>
<path d="M170.6 407.8 L172.3 407.8" fill="none" stroke="#0d0d0d" stroke-width="0.8"/>
<path d="M170.6 412.2 L172.3 412.2" fill="none" stroke="#0d0d0d" stroke-width="0.8"/>
<path d="M170.6 407.1 L170.9 406.4" fill="none" stroke="#0d0d0d" stroke-width="0.8"/>
<path d="M170.0 402.1 L167.9 403.5" fill="none" stroke="#0d0d0d" stroke-width="0.8"/>
<path d="M169.5 400.1 L168.0 400.9" fill="none" stroke="#0d0d0d" stroke-width="0.8"/>
<path d="M169.2 399.0 L166.3 399.2" fill="none" stroke="#0d0d0d" stroke-width="0.8"/>
<path d="M168.9 397.9 L166.5 397.6" fill="none" stroke="#0d0d0d" stroke-width="0.8"/>
<path d="M168.8 392.9 L170.5 392.8" fill="none" stroke="#0d0d0d" stroke-width="0.8"/>
<path d="M169.2 390.4 L166.6 390.7" fill="none" stroke="#0d0d0d" stroke-width="0.8"/>
<path d="M168.6 393.6 L169.7 393.9" fill="none" stroke="#0d0d0d" stroke-width="0.8"/>
<path d="M169.7 387.4 L166.2 386.4" fill="none" stroke="#0d0d0d" stroke-width="0.8"/>
<path d="M174.2 381.3 L172.5 380.4" fill="none" stroke="#0d0d0d" stroke-width="0.8"/>
<path d="M174.2 381.3 L174.8 382.5" fill="none" stroke="#0d0d0d" stroke-width="0.8"/>
<path d="M179.9 376.4 L180.5 376.3" fill="none" stroke="#0d0d0d" stroke-width="0.8"/>
<path d="M174.4 381.1 L172.8 378.9" fill="none" stroke="#0d0d0d" stroke-width="0.8"/>
<path d="M177.1 378.8 L176.9 380.0" fill="none" stroke="#0d0d0d" stroke-width="0.8"/>
<path d="M180.9 375.5 L181.8 376.7" fill="none" stroke="#0d0d0d" stroke-width="0.8"/>
<path d="M183.5 373.1 L183.0 372.0" fill="none" stroke="#0d0d0d" stroke-width="0.8"/>
<path d="M183.8 372.8 L181.7 370.8" fill="none" stroke="#0d0d0d" stroke-width="0.8"/>
<path d="M191.3 367.2 L191.4 367.7" fill="none" stroke="#0d0d0d" stroke-width="0.8"/>
<path d="M189.5 368.3 L189.5 367.7" fill="none" stroke="#0d0d0d" stroke-width="0.8"/>
<path d="M194.9 361.3 L196.9 362.0" fill="none" stroke="#0d0d0d" stroke-width="0.8"/>
<path d="M194.6 361.9 L195.1 362.6" fill="none" stroke="#0d0d0d" stroke-width="0.8"/>
<path d="M194.3 362.4 L193.5 361.1" fill="none" stroke="#0d0d0d" stroke-width="0.8"/>
<path d="M196.1 358.5 L194.8 358.7" fill="none" stroke="#0d0d0d" stroke-width="0.8"/>
<path d="M197.8 354.6 L195.7 353.3" fill="none" stroke="#0d0d0d" stroke-width="0.8"/>
<path d="M197.4 355.4 L196.9 354.8" fill="none" stroke="#0d0d0d" stroke-width="0.8"/>
<path d="M197.7 354.9 L199.2 355.2" fill="none" stroke="#0d0d0d" stroke-width="0.8"/>
<path d="M197.5 355.2 L195.8 354.2" fill="none" stroke="#0d0d0d" stroke-width="0.8"/>
<path d="M202.0 345.7 L203.6 346.0" fill="none" stroke="#0d0d0d" stroke-width="0.8"/>
<path d="M202.5 344.3 L200.2 342.9" fill="none" stroke="#0d0d0d" stroke-width="0.8"/>
<path d="M202.0 345.5 L199.1 344.6" fill="none" stroke="#0d0d0d" stroke-width="0.8"/>
<path d="M203.9 340.3 L202.2 339.6" fill="none" stroke="#0d0d0d" stroke-width="0.8"/>
<path d="M206.6 335.6 L208.8 335.9" fill="none" stroke="#0d0d0d" stroke-width="0.8"/>
<path d="M204.6 338.8 L205.8 339.8" fill="none" stroke="#0d0d0d" stroke-width="0.8"/>
<path d="M204.4 339.1 L205.9 340.3" fill="none" stroke="#0d0d0d" stroke-width="0.8"/>
<path d="M209.3 331.5 L207.4 330.7" fill="none" stroke="#0d0d0d" stroke-width="0.8"/>
<path d="M212.5 326.0 L214.3 327.4" fill="none" stroke="#0d0d0d" stroke-width="0.8"/>
<path d="M211.5 327.8 L210.0 326.2" fill="none" stroke="#0d0d0d" stroke-width="0.8"/>
<path d="M213.5 324.2 L210.9 322.6" fill="none" stroke="#0d0d0d" stroke-width="0.8"/>
<path d="M212.3 326.4 L209.4 325.2" fill="none" stroke="#0d0d0d" stroke-width="0.8"/>
<path d="M209.7 321.3 L209.0 322.2" fill="none" stroke="#0d0d0d" stroke-width="0.8"/>
<path d="M211.7 322.4 L212.5 322.0" fill="none" stroke="#0d0d0d" stroke-width="0.8"/>
<path d="M210.5 321.7 L210.5 323.4" fill="none" stroke="#0d0d0d" stroke-width="0.8"/>
<path d="M208.9 318.2 L208.6 317.2" fill="none" stroke="#0d0d0d" stroke-width="0.8"/>
<path d="M208.6 318.4 L209.0 318.9" fill="none" stroke="#0d0d0d" stroke-width="0.8"/>
<path d="M209.1 318.0 L209.3 319.4" fill="none" stroke="#0d0d0d" stroke-width="0.8"/>
<path d="M214.7 310.6 L213.4 309.9" fill="none" stroke="#0d0d0d" stroke-width="0.8"/>
<path d="M214.8 310.1 L213.7 309.5" fill="none" stroke="#0d0d0d" stroke-width="0.8"/>
<path d="M220.8 303.9 L219.0 302.2" fill="none" stroke="#0d0d0d" stroke-width="0.8"/>
<path d="M219.1 305.4 L216.8 302.7" fill="none" stroke="#0d0d0d" stroke-width="0.8"/>
<path d="M220.9 303.7 L219.4 302.6" fill="none" stroke="#0d0d0d" stroke-width="0.8"/>
<path d="M226.1 301.5 L227.6 303.9" fill="none" stroke="#0d0d0d" stroke-width="0.8"/>
<path d="M222.9 302.8 L223.7 302.9" fill="none" stroke="#0d0d0d" stroke-width="0.8"/>
<path d="M229.6 297.6 L227.9 296.0" fill="none" stroke="#0d0d0d" stroke-width="0.8"/>
<path d="M226.7 301.3 L226.2 299.7" fill="none" stroke="#0d0d0d" stroke-width="0.8"/>
<path d="M230.9 296.0 L230.3 295.6" fill="none" stroke="#0d0d0d" stroke-width="0.8"/>
<path d="M233.0 293.4 L232.0 293.4" fill="none" stroke="#0d0d0d" stroke-width="0.8"/>
<path d="M232.0 294.7 L232.1 295.3" fill="none" stroke="#0d0d0d" stroke-width="0.8"/>
<path d="M234.8 291.3 L231.9 288.9" fill="none" stroke="#0d0d0d" stroke-width="0.8"/>
<path d="M241.7 291.2 L242.2 291.9" fill="none" stroke="#0d0d0d" stroke-width="0.8"/>
<path d="M237.4 290.5 L236.7 292.7" fill="none" stroke="#0d0d0d" stroke-width="0.8"/>
<path d="M237.7 290.5 L238.4 289.6" fill="none" stroke="#0d0d0d" stroke-width="0.8"/>
<path d="M245.8 289.9 L244.2 287.0" fill="none" stroke="#0d0d0d" stroke-width="0.8"/>
<path d="M247.6 289.2 L246.0 286.2" fill="none" stroke="#0d0d0d" stroke-width="0.8"/>
<path d="M250.0 286.9 L248.3 285.2" fill="none" stroke="#0d0d0d" stroke-width="0.8"/>
<path d="M251.4 285.5 L252.3 286.3" fill="none" stroke="#0d0d0d" stroke-width="0.8"/>
<path d="M254.6 283.1 L252.6 281.2" fill="none" stroke="#0d0d0d" stroke-width="0.8"/>
<path d="M253.9 283.6 L253.3 282.4" fill="none" stroke="#0d0d0d" stroke-width="0.8"/>
<path d="M258.8 280.3 L259.4 281.1" fill="none" stroke="#0d0d0d" stroke-width="0.8"/>
<path d="M259.7 279.8 L260.1 280.5" fill="none" stroke="#0d0d0d" stroke-width="0.8"/>
<path d="M262.2 278.6 L263.2 280.4" fill="none" stroke="#0d0d0d" stroke-width="0.8"/>
<path d="M264.1 277.6 L264.1 278.4" fill="none" stroke="#0d0d0d" stroke-width="0.8"/>
<path d="M270.1 278.4 L270.6 275.5" fill="none" stroke="#0d0d0d" stroke-width="0.8"/>
<path d="M273.1 278.8 L271.7 275.9" fill="none" stroke="#0d0d0d" stroke-width="0.8"/>
<path d="M277.8 276.9 L277.5 275.2" fill="none" stroke="#0d0d0d" stroke-width="0.8"/>
<path d="M282.2 281.3 L283.5 280.9" fill="none" stroke="#0d0d0d" stroke-width="0.8"/>
<path d="M281.8 280.9 L282.0 279.7" fill="none" stroke="#0d0d0d" stroke-width="0.8"/>
<path d="M287.6 282.4 L287.2 284.3" fill="none" stroke="#0d0d0d" stroke-width="0.8"/>
<path d="M284.7 281.8 L285.2 282.1" fill="none" stroke="#0d0d0d" stroke-width="0.8"/>
<path d="M290.8 285.7 L292.3 283.6" fill="none" stroke="#0d0d0d" stroke-width="0.8"/>
<path d="M288.8 283.5 L290.2 282.0" fill="none" stroke="#0d0d0d" stroke-width="0.8"/>
<path d="M287.9 282.5 L286.6 282.9" fill="none" stroke="#0d0d0d" stroke-width="0.8"/>
<path d="M292.2 288.7 L293.6 289.8" fill="none" stroke="#0d0d0d" stroke-width="0.8"/>
<path d="M288.7 291.7 L287.6 289.9" fill="none" stroke="#0d0d0d" stroke-width="0.8"/>
<path d="M290.2 295.5 L291.1 294.8" fill="none" stroke="#0d0d0d" stroke-width="0.8"/>
<path d="M288.3 293.8 L289.6 292.7" fill="none" stroke="#0d0d0d" stroke-width="0.8"/>
<path d="M291.7 296.9 L293.3 295.1" fill="none" stroke="#0d0d0d" stroke-width="0.8"/>
<path d="M290.6 299.1 L291.1 301.9" fill="none" stroke="#0d0d0d" stroke-width="0.8"/>
<path d="M286.2 299.1 L285.4 301.2" fill="none" stroke="#0d0d0d" stroke-width="0.8"/>
<path d="M283.8 300.5 L285.9 302.7" fill="none" stroke="#0d0d0d" stroke-width="0.8"/>
<path d="M265.2 277.0 L267.8 278.0 L264.2 290.8Z" fill="#cacaca" stroke="#0d0d0d" stroke-width="0.8" stroke-linejoin="round" />
<path d="M270.6 278.8 L272.8 279.4 L270.2 285.8Z" fill="#cacaca" stroke="#0d0d0d" stroke-width="0.8" stroke-linejoin="round" />
<path d="M276.6 277.4 L278.8 277.6 L278.9 285.8Z" fill="#cacaca" stroke="#0d0d0d" stroke-width="0.8" stroke-linejoin="round" />
<path d="M292.0 291.6 L291.3 295.4 L281.1 291.6Z" fill="#cacaca" stroke="#0d0d0d" stroke-width="0.8" stroke-linejoin="round" />
<path d="M257.6 281.1 L259.8 280.2 L255.6 293.0Z" fill="#cacaca" stroke="#0d0d0d" stroke-width="0.8" stroke-linejoin="round" />
<path d="M251.2 285.4 L253.2 284.3 L254.1 291.9Z" fill="#cacaca" stroke="#0d0d0d" stroke-width="0.8" stroke-linejoin="round" />
<path d="M246.9 289.6 L248.8 288.9 L249.2 295.8Z" fill="#cacaca" stroke="#0d0d0d" stroke-width="0.8" stroke-linejoin="round" />
<path d="M241.0 291.3 L243.0 291.3 L243.5 297.0Z" fill="#cacaca" stroke="#0d0d0d" stroke-width="0.8" stroke-linejoin="round" />
<path d="M235.0 291.0 L236.8 289.6 L239.0 296.5Z" fill="#cacaca" stroke="#0d0d0d" stroke-width="0.8" stroke-linejoin="round" />
<path d="M206.2 320.2 L214.2 315.2 L224.0 313.2 L216.0 318.2Z" fill="#0d0d0d" stroke="none" stroke-width="0" stroke-linejoin="round" />
<path d="M207.5 321.0 L216.0 318.8 L223.0 314.2 L214.5 323.0Z" fill="#cacaca" stroke="none" stroke-width="0" stroke-linejoin="round" />
<path d="M170.0 388.9 L171.1 389.5 L172.4 389.8 L173.4 390.5 L174.4 391.4 L175.4 392.3 L176.9 392.2 L177.8 393.2 L178.7 394.1 L180.0 394.4" fill="none" stroke="#0d0d0d" stroke-width="1.0"/>
<path d="M170.6 397.8 L171.3 398.9 L172.8 399.0 L173.9 399.7 L174.4 401.1 L175.4 401.9 L176.7 402.2" fill="none" stroke="#0d0d0d" stroke-width="1.0"/>
<path d="M171.1 404.4 L172.2 405.0 L173.6 405.2 L174.3 406.5 L175.6 406.7" fill="none" stroke="#0d0d0d" stroke-width="1.0"/>
<path d="M196.7 356.9 L197.9 356.5 L199.1 356.8 L200.3 356.2 L201.5 356.2 L202.6 355.6" fill="none" stroke="#0d0d0d" stroke-width="1.0"/>
<path d="M201.1 348.0 L202.6 347.8 L204.0 348.6 L205.5 348.5" fill="none" stroke="#0d0d0d" stroke-width="1.0"/>
<path d="M204.4 339.1 L205.9 339.5 L207.2 340.3 L208.5 341.0" fill="none" stroke="#0d0d0d" stroke-width="1.0"/>
<path d="M174.4 381.1 L175.3 382.2 L176.5 383.1 L178.0 383.4 L179.0 384.5" fill="none" stroke="#0d0d0d" stroke-width="1.0"/>
<path d="M182.2 374.4 L183.2 375.1 L183.9 376.1 L184.7 377.1 L185.5 378.0" fill="none" stroke="#0d0d0d" stroke-width="1.0"/>
<path d="M173.3 418.9 L174.3 418.1 L175.2 417.1 L176.3 416.5 L177.5 416.0" fill="none" stroke="#0d0d0d" stroke-width="1.0"/>
<path d="M209.4 331.3 L210.5 332.2 L211.6 333.1 L213.0 333.5" fill="none" stroke="#0d0d0d" stroke-width="1.0"/>
<path d="M226.7 301.3 L227.8 302.1 L228.0 303.4 L228.6 304.6 L229.5 305.5" fill="none" stroke="#0d0d0d" stroke-width="1.0"/>
<path d="M221.1 303.6 L222.3 304.4 L222.5 306.0 L224.0 306.7 L224.5 308.0" fill="none" stroke="#0d0d0d" stroke-width="1.0"/>
<ellipse cx="228.5" cy="297" rx="1.9500000000000002" ry="1.04" fill="#dce9fd" stroke="#0d0d0d" stroke-width=".6" transform="rotate(-40 228.5 297)"/>
<ellipse cx="233" cy="291.5" rx="2.0999999999999996" ry="1.1199999999999999" fill="#dce9fd" stroke="#0d0d0d" stroke-width=".6" transform="rotate(-40 233 291.5)"/>
<ellipse cx="238.5" cy="288.3" rx="1.7999999999999998" ry="0.96" fill="#dce9fd" stroke="#0d0d0d" stroke-width=".6" transform="rotate(-40 238.5 288.3)"/>
<ellipse cx="244.5" cy="288" rx="1.9500000000000002" ry="1.04" fill="#dce9fd" stroke="#0d0d0d" stroke-width=".6" transform="rotate(-40 244.5 288)"/>
<ellipse cx="250.5" cy="284" rx="1.7999999999999998" ry="0.96" fill="#dce9fd" stroke="#0d0d0d" stroke-width=".6" transform="rotate(-40 250.5 284)"/>
<ellipse cx="255.5" cy="280.5" rx="1.7999999999999998" ry="0.96" fill="#dce9fd" stroke="#0d0d0d" stroke-width=".6" transform="rotate(-40 255.5 280.5)"/>
<ellipse cx="262.5" cy="277" rx="1.7999999999999998" ry="0.96" fill="#dce9fd" stroke="#0d0d0d" stroke-width=".6" transform="rotate(-40 262.5 277)"/>
<ellipse cx="274.5" cy="276.4" rx="1.5" ry="0.8" fill="#dce9fd" stroke="#0d0d0d" stroke-width=".6" transform="rotate(-40 274.5 276.4)"/>
<ellipse cx="218" cy="306.5" rx="1.7999999999999998" ry="0.96" fill="#dce9fd" stroke="#0d0d0d" stroke-width=".6" transform="rotate(-40 218 306.5)"/>
<ellipse cx="210.5" cy="316" rx="1.5" ry="0.8" fill="#dce9fd" stroke="#0d0d0d" stroke-width=".6" transform="rotate(-40 210.5 316)"/>
<path d="M248.0 403.8 L248.3 403.3" fill="none" stroke="#0d0d0d" stroke-width="0.9"/>
<path d="M247.1 403.9 L246.9 404.3" fill="none" stroke="#0d0d0d" stroke-width="0.9"/>
<path d="M247.2 403.2 L246.1 403.5" fill="none" stroke="#0d0d0d" stroke-width="0.9"/>
<path d="M247.4 402.1 L248.1 402.8" fill="none" stroke="#0d0d0d" stroke-width="0.9"/>
<path d="M247.3 401.8 L247.2 400.9" fill="none" stroke="#0d0d0d" stroke-width="0.9"/>
<path d="M245.6 403.1 L244.6 403.0" fill="none" stroke="#0d0d0d" stroke-width="0.9"/>
<path d="M247.6 401.1 L247.9 400.1" fill="none" stroke="#0d0d0d" stroke-width="0.9"/>
<path d="M248.7 404.9 L248.7 403.9" fill="none" stroke="#0d0d0d" stroke-width="0.9"/>
<path d="M247.5 402.9 L248.6 402.0" fill="none" stroke="#0d0d0d" stroke-width="0.9"/>
<path d="M249.4 406.1 L249.9 406.8" fill="none" stroke="#0d0d0d" stroke-width="0.9"/>
<path d="M245.9 406.0 L245.9 407.1" fill="none" stroke="#0d0d0d" stroke-width="0.9"/>
<path d="M249.7 401.8 L250.4 402.8" fill="none" stroke="#0d0d0d" stroke-width="0.9"/>
<path d="M245.2 402.7 L245.9 401.9" fill="none" stroke="#0d0d0d" stroke-width="0.9"/>
<path d="M249.6 402.3 L250.3 401.5" fill="none" stroke="#0d0d0d" stroke-width="0.9"/>
<path d="M247.5 405.7 L246.8 405.1" fill="none" stroke="#0d0d0d" stroke-width="0.9"/>
<path d="M247.5 402.6 L246.4 401.8" fill="none" stroke="#0d0d0d" stroke-width="0.9"/>
<path d="M245.7 405.8 L246.2 406.7" fill="none" stroke="#0d0d0d" stroke-width="0.9"/>
<path d="M245.8 405.0 L244.9 405.1" fill="none" stroke="#0d0d0d" stroke-width="0.9"/>
<path d="M248.2 402.8 L249.1 402.9" fill="none" stroke="#0d0d0d" stroke-width="0.9"/>
<path d="M247.9 405.5 L247.0 406.7" fill="none" stroke="#0d0d0d" stroke-width="0.9"/>
<path d="M248.2 403.0 L248.9 402.4" fill="none" stroke="#0d0d0d" stroke-width="0.9"/>
<path d="M250.1 403.9 L249.7 404.5" fill="none" stroke="#0d0d0d" stroke-width="0.9"/>
<path d="M247.2 401.8 L247.8 400.7" fill="none" stroke="#0d0d0d" stroke-width="0.9"/>
<path d="M249.2 402.2 L249.5 403.4" fill="none" stroke="#0d0d0d" stroke-width="0.9"/>
<path d="M247.9 404.4 L247.5 403.2" fill="none" stroke="#0d0d0d" stroke-width="0.9"/>
<path d="M245.1 401.7 L245.4 401.5" fill="none" stroke="#0d0d0d" stroke-width="0.9"/>
<path d="M249.5 407.4 L248.7 406.8" fill="none" stroke="#0d0d0d" stroke-width="0.9"/>
<path d="M250.1 404.3 L248.9 403.9" fill="none" stroke="#0d0d0d" stroke-width="0.9"/>
<path d="M248.1 405.5 L247.4 405.7" fill="none" stroke="#0d0d0d" stroke-width="0.9"/>
<path d="M249.8 404.9 L250.1 404.9" fill="none" stroke="#0d0d0d" stroke-width="0.9"/>
<path d="M248.2 407.6 L247.6 406.7" fill="none" stroke="#0d0d0d" stroke-width="0.9"/>
<path d="M248.0 406.5 L248.9 407.2" fill="none" stroke="#0d0d0d" stroke-width="0.9"/>
<path d="M249.1 405.2 L248.0 405.5" fill="none" stroke="#0d0d0d" stroke-width="0.9"/>
<path d="M249.7 405.5 L250.1 405.3" fill="none" stroke="#0d0d0d" stroke-width="0.9"/>
<path d="M251.1 406.8 L250.5 407.8" fill="none" stroke="#0d0d0d" stroke-width="0.9"/>
<path d="M247.9 406.1 L247.6 405.5" fill="none" stroke="#0d0d0d" stroke-width="0.9"/>
<path d="M229.7 415.0 L228.5 415.1" fill="none" stroke="#0d0d0d" stroke-width="0.9"/>
<path d="M234.3 411.6 L233.6 411.9" fill="none" stroke="#0d0d0d" stroke-width="0.9"/>
<path d="M232.0 414.2 L232.8 413.5" fill="none" stroke="#0d0d0d" stroke-width="0.9"/>
<path d="M231.0 412.5 L229.9 413.4" fill="none" stroke="#0d0d0d" stroke-width="0.9"/>
<path d="M233.5 414.6 L232.3 415.4" fill="none" stroke="#0d0d0d" stroke-width="0.9"/>
<path d="M233.3 413.3 L233.9 413.2" fill="none" stroke="#0d0d0d" stroke-width="0.9"/>
<path d="M230.6 411.4 L229.9 410.3" fill="none" stroke="#0d0d0d" stroke-width="0.9"/>
<path d="M231.1 414.8 L231.6 415.6" fill="none" stroke="#0d0d0d" stroke-width="0.9"/>
<path d="M233.1 412.3 L233.2 412.1" fill="none" stroke="#0d0d0d" stroke-width="0.9"/>
<path d="M233.5 413.6 L232.9 414.0" fill="none" stroke="#0d0d0d" stroke-width="0.9"/>
<path d="M234.4 412.0 L235.3 410.9" fill="none" stroke="#0d0d0d" stroke-width="0.9"/>
<path d="M230.8 412.1 L231.3 413.2" fill="none" stroke="#0d0d0d" stroke-width="0.9"/>
<path d="M233.3 412.6 L234.2 412.2" fill="none" stroke="#0d0d0d" stroke-width="0.9"/>
<path d="M230.6 415.6 L231.0 416.1" fill="none" stroke="#0d0d0d" stroke-width="0.9"/>
<path d="M229.6 418.7 L229.5 419.5" fill="none" stroke="#0d0d0d" stroke-width="0.9"/>
<path d="M229.7 418.3 L229.6 418.8" fill="none" stroke="#0d0d0d" stroke-width="0.9"/>
<path d="M229.3 416.3 L228.6 416.6" fill="none" stroke="#0d0d0d" stroke-width="0.9"/>
<path d="M227.5 418.5 L226.6 417.3" fill="none" stroke="#0d0d0d" stroke-width="0.9"/>
<path d="M227.6 418.5 L227.2 417.7" fill="none" stroke="#0d0d0d" stroke-width="0.9"/>
<path d="M227.3 415.3 L227.8 415.7" fill="none" stroke="#0d0d0d" stroke-width="0.9"/>
<path d="M229.7 417.9 L228.7 418.1" fill="none" stroke="#0d0d0d" stroke-width="0.9"/>
<path d="M228.5 418.1 L229.3 419.1" fill="none" stroke="#0d0d0d" stroke-width="0.9"/>
<path d="M245.0 378.1 L246.0 379.2" fill="none" stroke="#0d0d0d" stroke-width="0.9"/>
<path d="M245.1 376.1 L244.2 375.0" fill="none" stroke="#0d0d0d" stroke-width="0.9"/>
<path d="M247.3 377.9 L247.7 378.7" fill="none" stroke="#0d0d0d" stroke-width="0.9"/>
<path d="M246.7 376.4 L245.7 375.4" fill="none" stroke="#0d0d0d" stroke-width="0.9"/>
<path d="M225.3 423.1 L224.8 422.9" fill="none" stroke="#0d0d0d" stroke-width="0.9"/>
<path d="M223.1 423.3 L222.5 423.8" fill="none" stroke="#0d0d0d" stroke-width="0.9"/>
<path d="M224.1 423.5 L225.2 423.5" fill="none" stroke="#0d0d0d" stroke-width="0.9"/>
<path d="M225.6 424.4 L224.4 424.1" fill="none" stroke="#0d0d0d" stroke-width="0.9"/>
<path d="M264.8 353.7 L264.5 354.1" fill="none" stroke="#0d0d0d" stroke-width="0.9"/>
<path d="M265.1 352.3 L266.0 351.3" fill="none" stroke="#0d0d0d" stroke-width="0.9"/>
<path d="M265.8 352.2 L264.6 351.5" fill="none" stroke="#0d0d0d" stroke-width="0.9"/>
<path d="M231.0 433.3 L231.7 430.0 L234.0 426.7 L236.7 425.0 L236.0 427.3 L234.0 431.3 L232.0 434.3Z" fill="#88b4f6" stroke="#0d0d0d" stroke-width="0.6" stroke-linejoin="round" />
<path d="M223.6 440.0 L225.0 435.0 L226.2 431.2" fill="none" stroke="#0d0d0d" stroke-width="0.8"/>
<path d="M184.3 440.0 L184.5 438.8 L184.6 437.6 L183.6 436.5 L184.0 435.3 L184.9 434.5 L185.8 433.8 L186.7 433.0 L188.1 432.7 L189.3 432.0 L190.0 430.9 L191.1 430.2 L192.0 429.3 L193.0 428.8 L194.1 428.9 L195.0 428.3 L195.3 429.3 L194.8 430.3 L195.3 431.3 L195.2 432.3 L195.0 433.4 L194.4 434.3 L194.3 435.3 L194.5 436.5 L194.7 437.7 L196.0 437.9 L197.0 438.7 L196.5 440.0 L196.3 441.3 L195.5 442.1 L194.2 442.0 L193.3 442.7 L192.6 443.9 L192.3 445.3 L191.5 446.1 L191.1 447.0 L190.7 448.0 L190.6 449.1 L190.3 450.2 L190.0 451.3 L188.7 451.6 L187.3 451.7 L186.8 450.6 L185.7 450.0 L185.5 448.9 L186.0 448.0 L185.7 446.9 L184.5 446.4 L184.3 445.3 L184.0 444.2 L184.1 443.2 L184.7 442.1 L184.3 441.1Z" fill="#3d82e4" stroke="#0d0d0d" stroke-width="0.95" stroke-linejoin="round" />
<path d="M192.3 446.7 L193.5 446.2 L194.7 446.0 L196.0 447.3 L195.7 448.5 L196.0 449.7 L195.0 450.1 L194.0 450.0 L193.1 449.4 L192.3 448.7 L192.3 447.7Z" fill="#3d82e4" stroke="#0d0d0d" stroke-width="0.95" stroke-linejoin="round" />
<path d="M198.0 445.3 L199.1 445.0 L200.0 444.3 L201.1 443.7 L202.0 442.7 L203.0 442.5 L204.0 442.0 L204.8 442.9 L205.3 444.0 L205.1 445.0 L204.7 446.0 L203.0 446.7 L203.2 448.0 L202.7 449.3 L201.6 449.2 L200.7 449.7 L199.8 448.7 L198.7 448.0 L198.6 446.6Z" fill="#3d82e4" stroke="#0d0d0d" stroke-width="0.95" stroke-linejoin="round" />
<path d="M198.0 452.0 L199.3 451.7 L200.7 451.9 L201.7 452.0 L202.7 452.3 L201.3 453.7 L200.0 453.3 L198.7 453.3Z" fill="#3d82e4" stroke="#0d0d0d" stroke-width="0.95" stroke-linejoin="round" />
<path d="M214.7 448.7 L216.0 448.3 L216.6 449.2 L217.3 450.0 L216.3 451.0 L215.0 450.0Z" fill="#3d82e4" stroke="#0d0d0d" stroke-width="0.95" stroke-linejoin="round" />
<path d="M184.800 436.500l2.800 .8M185.500 438l2-.5M188.500 434.500l1 1.500M187 435.300l1.500 2.200M190.500 433.800l.8 1.200M193.200 444.200l1.500 1.500M196.500 443.500l1.500 -1M199 446.500l1.200 1.500M197.200 449.800l1.200 1.200M203.200 447.300l1.500 .5" stroke="#1a1a1a" stroke-width="1.2" fill="none"/>
<text x="159.8" y="310.8" font-size="8.1" font-weight="normal" text-anchor="middle" fill="#a9a9a9" stroke="none" stroke-width="0" paint-order="stroke" stroke-linejoin="round">Norwegian Sea</text>
<text x="49.8" y="358.7" font-size="9.25" font-weight="bold" text-anchor="start" fill="#5b5b5b" stroke="#f5f5f5" stroke-width="2" paint-order="stroke" stroke-linejoin="round">eland</text>
<text x="143" y="450.7" font-size="9.25" font-weight="bold" text-anchor="middle" fill="#5b5b5b" stroke="#f5f5f5" stroke-width="2" paint-order="stroke" stroke-linejoin="round">United</text>
<text x="142.5" y="461.7" font-size="9.25" font-weight="bold" text-anchor="middle" fill="#5b5b5b" stroke="#f5f5f5" stroke-width="2" paint-order="stroke" stroke-linejoin="round">Kingdom</text>
<text x="99.8" y="470.5" font-size="9.25" font-weight="bold" text-anchor="middle" fill="#5b5b5b" stroke="#f5f5f5" stroke-width="2" paint-order="stroke" stroke-linejoin="round">Ireland</text>
<text x="189.7" y="480.7" font-size="9.25" font-weight="bold" text-anchor="middle" fill="#5b5b5b" stroke="#f5f5f5" stroke-width="2" paint-order="stroke" stroke-linejoin="round">Germany</text>
<text x="234" y="470.7" font-size="9.25" font-weight="bold" text-anchor="middle" fill="#5b5b5b" stroke="#f5f5f5" stroke-width="2" paint-order="stroke" stroke-linejoin="round">Poland</text>
<text x="278" y="462.7" font-size="9.25" font-weight="bold" text-anchor="middle" fill="#5b5b5b" stroke="#f5f5f5" stroke-width="2" paint-order="stroke" stroke-linejoin="round">Belarus</text>
<text x="293.6" y="495.2" font-size="9.25" font-weight="bold" text-anchor="middle" fill="#5b5b5b" stroke="#f5f5f5" stroke-width="2" paint-order="stroke" stroke-linejoin="round">Ukraine</text>
<text x="174.6" y="506" font-size="8.12" fill="#111" stroke="#f5f5f5" stroke-opacity=".75" stroke-width="1.6" paint-order="stroke">Keyboard shortcuts</text>
<text x="256.7" y="506" font-size="8.12" fill="#111" stroke="#f5f5f5" stroke-opacity=".75" stroke-width="1.6" paint-order="stroke">Map data ©2026 Google, INEGI</text>
<text x="382.3" y="506" font-size="8.12" fill="#111" stroke="#f5f5f5" stroke-opacity=".75" stroke-width="1.6" paint-order="stroke">Terms</text>
<text x="60" y="501.8" font-size="16" fill="#fff" stroke="#757575" stroke-width="1.5" paint-order="stroke" stroke-linejoin="round" textLength="46.5" lengthAdjust="spacingAndGlyphs">Google</text>
<rect x="368.3" y="231.700" width="33" height="33" rx="2" fill="#000" opacity=".12"/>
<rect x="368.3" y="230.7" width="33" height="33" rx="2" fill="#fff"/>
<path d="M378.700 245v-4h4M387.300 241h4v4M391.300 249.700v4h-4M382.700 253.700h-4v-4" fill="none" stroke="#666" stroke-width="1.9"/></g><defs><linearGradient id="lg"><stop offset="0" stop-color="#dfeafd"/><stop offset="1" stop-color="#3d82e4"/></linearGradient></defs>
<text x="60.4" y="522" font-size="6.5" font-weight="bold" fill="#222">value</text>
<text x="84.7" y="522" font-size="6.5" fill="#555">2bn</text>
<rect x="97.4" y="514.7" width="38.6" height="9.5" fill="url(#lg)"/>
<text x="138.2" y="522" font-size="6.5" fill="#555">13bn</text></svg><svg class="abs" style="left:0;top:0" width="1080" height="976" viewBox="0 0 1080 976" font-family="Liberation Sans, sans-serif"><path d="M301.1 9.9 L306.15 13.55 V20.45 H296.05 V13.55 Z" fill="none" stroke="#1a73e8" stroke-width="1.7" stroke-linejoin="round"/>
<rect x="299.1" y="15.900" width="4.1" height="4.6" fill="#1a73e8"/>
<path d="M394.4 18.5 L399.1 13.9 L401.7 16.600 L407.2 11.5" fill="none" stroke="#444" stroke-width="1.5"/><path d="M403.800 11.200 H407.700 V15" fill="none" stroke="#444" stroke-width="1.5"/>
<path d="M546.400 11.950 H544.100 a3.050 3.050 0 0 0 0 6.100 H546.400 M548.700 11.950 H551 a3.050 3.050 0 0 1 0 6.100 H548.700 M545 15 h5.100" fill="none" stroke="#4a4a4a" stroke-width="1.5"/>
<g transform="translate(704.800 6.600) scale(0.700)"><path fill="#555" d="M12 2C6.480 2 2 6.480 2 12s4.480 10 10 10 10-4.480 10-10S17.520 2 12 2zm-1 17.930c-3.950-.49-7-3.850-7-7.930 0-.62.080-1.210.210-1.790L9 15v1c0 1.100.9 2 2 2v1.930zm6.900-2.540c-.26-.81-1-1.390-1.900-1.390h-1v-3c0-.55-.45-1-1-1H8v-2h2c.550 0 1-.45 1-1V7h2c1.100 0 2-.9 2-2v-.41c2.930 1.190 5 4.060 5 7.410 0 2.080-.8 3.970-2.100 5.390z"/></g>
<text x="422.7" y="227.3" font-size="9.8" fill="#202124" text-anchor="start" font-weight="bold" >Tenders Over Time</text>
<text x="651.8" y="227.3" font-size="9.8" fill="#202124" text-anchor="start" font-weight="bold" >Tenders per Country</text>
<text x="864.2" y="227.3" font-size="9.8" fill="#202124" text-anchor="start" font-weight="bold" >Total Contract Value per Country</text>
<text x="31.5" y="592" font-size="9.8" fill="#202124" text-anchor="start" font-weight="bold" >Evolution of tenders and contract value per quarter</text>
<line x1="448" y1="504.2" x2="618.4" y2="504.2" stroke="#e4e4e4" stroke-width="1"/>
<line x1="448" y1="488.97499999999997" x2="618.4" y2="488.97499999999997" stroke="#efefef" stroke-width="1"/>
<line x1="448" y1="473.75" x2="618.4" y2="473.75" stroke="#e4e4e4" stroke-width="1"/>
<line x1="448" y1="458.525" x2="618.4" y2="458.525" stroke="#efefef" stroke-width="1"/>
<line x1="448" y1="443.3" x2="618.4" y2="443.3" stroke="#e4e4e4" stroke-width="1"/>
<line x1="448" y1="428.075" x2="618.4" y2="428.075" stroke="#efefef" stroke-width="1"/>
<line x1="448" y1="412.85" x2="618.4" y2="412.85" stroke="#e4e4e4" stroke-width="1"/>
<line x1="448" y1="397.625" x2="618.4" y2="397.625" stroke="#efefef" stroke-width="1"/>
<line x1="448" y1="382.4" x2="618.4" y2="382.4" stroke="#e4e4e4" stroke-width="1"/>
<line x1="448" y1="367.17499999999995" x2="618.4" y2="367.17499999999995" stroke="#efefef" stroke-width="1"/>
<line x1="448" y1="351.95" x2="618.4" y2="351.95" stroke="#e4e4e4" stroke-width="1"/>
<line x1="448" y1="336.725" x2="618.4" y2="336.725" stroke="#efefef" stroke-width="1"/>
<line x1="448" y1="321.5" x2="618.4" y2="321.5" stroke="#e4e4e4" stroke-width="1"/>
<line x1="448" y1="306.275" x2="618.4" y2="306.275" stroke="#efefef" stroke-width="1"/>
<line x1="448" y1="291.04999999999995" x2="618.4" y2="291.04999999999995" stroke="#e4e4e4" stroke-width="1"/>
<line x1="448" y1="275.825" x2="618.4" y2="275.825" stroke="#efefef" stroke-width="1"/>
<line x1="448" y1="260.6" x2="618.4" y2="260.6" stroke="#e4e4e4" stroke-width="1"/>
<line x1="448" y1="504.2" x2="618.4" y2="504.2" stroke="#cfcfcf" stroke-width="1"/>
<text x="441.6" y="506.5" font-size="6.5" fill="#444" text-anchor="end" font-weight="normal" >0</text>
<text x="441.6" y="476.05" font-size="6.5" fill="#444" text-anchor="end" font-weight="normal" >1bn</text>
<text x="441.6" y="445.6" font-size="6.5" fill="#444" text-anchor="end" font-weight="normal" >2bn</text>
<text x="441.6" y="415.15000000000003" font-size="6.5" fill="#444" text-anchor="end" font-weight="normal" >3bn</text>
<text x="441.6" y="384.7" font-size="6.5" fill="#444" text-anchor="end" font-weight="normal" >4bn</text>
<text x="441.6" y="354.25" font-size="6.5" fill="#444" text-anchor="end" font-weight="normal" >5bn</text>
<text x="441.6" y="323.8" font-size="6.5" fill="#444" text-anchor="end" font-weight="normal" >6bn</text>
<text x="441.6" y="293.34999999999997" font-size="6.5" fill="#444" text-anchor="end" font-weight="normal" >7bn</text>
<text x="441.6" y="262.90000000000003" font-size="6.5" fill="#444" text-anchor="end" font-weight="normal" >8bn</text>
<text x="625.2" y="506.5" font-size="6.5" fill="#444" text-anchor="start" font-weight="normal" >0</text>
<text x="625.2" y="465.9" font-size="6.5" fill="#444" text-anchor="start" font-weight="normal" >200</text>
<text x="625.2" y="425.3" font-size="6.5" fill="#444" text-anchor="start" font-weight="normal" >400</text>
<text x="625.2" y="384.7" font-size="6.5" fill="#444" text-anchor="start" font-weight="normal" >600</text>
<text x="625.2" y="344.09999999999997" font-size="6.5" fill="#444" text-anchor="start" font-weight="normal" >800</text>
<text x="625.2" y="303.5" font-size="6.5" fill="#444" text-anchor="start" font-weight="normal" >1k</text>
<text x="625.2" y="262.9" font-size="6.5" fill="#444" text-anchor="start" font-weight="normal" >1.2k</text>
<rect x="448.60" y="245.30" width="13.60" height="6.20" fill="#64b5f6" />
<text x="465" y="250.8" font-size="6.5" fill="#444" text-anchor="start" font-weight="normal" >Total Value EUR</text>
<rect x="518.30" y="245.30" width="13.60" height="6.20" fill="#1565c0" />
<text x="534.2" y="250.8" font-size="6.5" fill="#444" text-anchor="start" font-weight="normal" >Number of Tenders</text>
<rect x="450.80" y="490.70" width="6.30" height="13.50" fill="#64b5f6" />
<rect x="457.80" y="431.30" width="6.30" height="72.90" fill="#1565c0" />
<text x="460.6" y="512" font-size="6.7" fill="#444" text-anchor="end" font-weight="normal" transform="rotate(-45 460.6 512)">2015</text>
<rect x="467.60" y="482.40" width="6.30" height="21.80" fill="#64b5f6" />
<rect x="474.60" y="418.10" width="6.30" height="86.10" fill="#1565c0" />
<text x="477.40000000000003" y="512" font-size="6.7" fill="#444" text-anchor="end" font-weight="normal" transform="rotate(-45 477.40000000000003 512)">2016</text>
<rect x="484.40" y="379.40" width="6.30" height="124.80" fill="#64b5f6" />
<rect x="491.40" y="392.60" width="6.30" height="111.60" fill="#1565c0" />
<text x="494.20000000000005" y="512" font-size="6.7" fill="#444" text-anchor="end" font-weight="normal" transform="rotate(-45 494.20000000000005 512)">2017</text>
<rect x="501.20" y="457.70" width="6.30" height="46.50" fill="#64b5f6" />
<rect x="508.20" y="375.30" width="6.30" height="128.90" fill="#1565c0" />
<text x="511.00000000000006" y="512" font-size="6.7" fill="#444" text-anchor="end" font-weight="normal" transform="rotate(-45 511.00000000000006 512)">2018</text>
<rect x="518.00" y="456.90" width="6.30" height="47.30" fill="#64b5f6" />
<rect x="525.00" y="392.80" width="6.30" height="111.40" fill="#1565c0" />
<text x="527.8" y="512" font-size="6.7" fill="#444" text-anchor="end" font-weight="normal" transform="rotate(-45 527.8 512)">2019</text>
<rect x="534.80" y="433.90" width="6.30" height="70.30" fill="#64b5f6" />
<rect x="541.80" y="378.50" width="6.30" height="125.70" fill="#1565c0" />
<text x="544.5999999999999" y="512" font-size="6.7" fill="#444" text-anchor="end" font-weight="normal" transform="rotate(-45 544.5999999999999 512)">2020</text>
<rect x="551.60" y="383.80" width="6.30" height="120.40" fill="#64b5f6" />
<rect x="558.60" y="362.50" width="6.30" height="141.70" fill="#1565c0" />
<text x="561.4" y="512" font-size="6.7" fill="#444" text-anchor="end" font-weight="normal" transform="rotate(-45 561.4 512)">2021</text>
<rect x="568.40" y="404.90" width="6.30" height="99.30" fill="#64b5f6" />
<rect x="575.40" y="361.60" width="6.30" height="142.60" fill="#1565c0" />
<text x="578.1999999999999" y="512" font-size="6.7" fill="#444" text-anchor="end" font-weight="normal" transform="rotate(-45 578.1999999999999 512)">2022</text>
<rect x="585.20" y="295.40" width="6.30" height="208.80" fill="#64b5f6" />
<rect x="592.20" y="344.80" width="6.30" height="159.40" fill="#1565c0" />
<text x="595.0" y="512" font-size="6.7" fill="#444" text-anchor="end" font-weight="normal" transform="rotate(-45 595.0 512)">2023</text>
<rect x="602.00" y="276.20" width="6.30" height="228.00" fill="#64b5f6" />
<rect x="609.00" y="281.30" width="6.30" height="222.90" fill="#1565c0" />
<text x="611.8" y="512" font-size="6.7" fill="#444" text-anchor="end" font-weight="normal" transform="rotate(-45 611.8 512)">2024</text>
<line x1="677.7" y1="513.9" x2="844.9" y2="513.9" stroke="#e4e4e4" stroke-width="1"/>
<line x1="677.7" y1="487.21" x2="844.9" y2="487.21" stroke="#efefef" stroke-width="1"/>
<line x1="677.7" y1="460.52" x2="844.9" y2="460.52" stroke="#e4e4e4" stroke-width="1"/>
<line x1="677.7" y1="433.83" x2="844.9" y2="433.83" stroke="#efefef" stroke-width="1"/>
<line x1="677.7" y1="407.14" x2="844.9" y2="407.14" stroke="#e4e4e4" stroke-width="1"/>
<line x1="677.7" y1="380.44999999999993" x2="844.9" y2="380.44999999999993" stroke="#efefef" stroke-width="1"/>
<line x1="677.7" y1="353.76" x2="844.9" y2="353.76" stroke="#e4e4e4" stroke-width="1"/>
<line x1="677.7" y1="327.06999999999994" x2="844.9" y2="327.06999999999994" stroke="#efefef" stroke-width="1"/>
<line x1="677.7" y1="300.38" x2="844.9" y2="300.38" stroke="#e4e4e4" stroke-width="1"/>
<line x1="677.7" y1="273.68999999999994" x2="844.9" y2="273.68999999999994" stroke="#efefef" stroke-width="1"/>
<line x1="677.7" y1="246.99999999999994" x2="844.9" y2="246.99999999999994" stroke="#e4e4e4" stroke-width="1"/>
<line x1="677.7" y1="513.9" x2="844.9" y2="513.9" stroke="#cfcfcf" stroke-width="1"/>
<text x="671" y="516.1999999999999" font-size="6.5" fill="#444" text-anchor="end" font-weight="normal" >0</text>
<text x="671" y="462.82" font-size="6.5" fill="#444" text-anchor="end" font-weight="normal" >500</text>
<text x="671" y="409.44" font-size="6.5" fill="#444" text-anchor="end" font-weight="normal" >1k</text>
<text x="671" y="356.06" font-size="6.5" fill="#444" text-anchor="end" font-weight="normal" >1.5k</text>
<text x="671" y="302.68" font-size="6.5" fill="#444" text-anchor="end" font-weight="normal" >2k</text>
<text x="671" y="249.29999999999995" font-size="6.5" fill="#444" text-anchor="end" font-weight="normal" >2.5k</text>
<rect x="689.20" y="258.74" width="27.20" height="255.16" fill="#9ad5f3" />
<text x="702.8000000000001" y="265.0436" font-size="6.5" fill="#222" text-anchor="middle" font-weight="normal" >2,390</text>
<text x="702.8000000000001" y="522.3" font-size="6.5" fill="#444" text-anchor="middle" font-weight="normal" >Finland</text>
<rect x="727.85" y="326.43" width="27.20" height="187.47" fill="#f5b508" />
<text x="741.45" y="332.72944" font-size="6.5" fill="#222" text-anchor="middle" font-weight="normal" >1,756</text>
<text x="741.45" y="522.3" font-size="6.5" fill="#444" text-anchor="middle" font-weight="normal" >Sweden</text>
<rect x="766.50" y="355.25" width="27.20" height="158.65" fill="#db3a2e" />
<text x="780.1" y="361.55464" font-size="6.5" fill="#fff" text-anchor="middle" font-weight="normal" >1,486</text>
<text x="780.1" y="522.3" font-size="6.5" fill="#444" text-anchor="middle" font-weight="normal" >Denmark</text>
<rect x="805.15" y="384.29" width="27.20" height="129.61" fill="#1a73e8" />
<text x="818.7500000000001" y="390.59336" font-size="6.5" fill="#fff" text-anchor="middle" font-weight="normal" >1,214</text>
<text x="818.7500000000001" y="522.3" font-size="6.5" fill="#444" text-anchor="middle" font-weight="normal" >Norway</text>
<line x1="889.4" y1="513.9" x2="1056.6" y2="513.9" stroke="#e4e4e4" stroke-width="1"/>
<line x1="889.4" y1="494.83599999999996" x2="1056.6" y2="494.83599999999996" stroke="#efefef" stroke-width="1"/>
<line x1="889.4" y1="475.772" x2="1056.6" y2="475.772" stroke="#e4e4e4" stroke-width="1"/>
<line x1="889.4" y1="456.70799999999997" x2="1056.6" y2="456.70799999999997" stroke="#efefef" stroke-width="1"/>
<line x1="889.4" y1="437.644" x2="1056.6" y2="437.644" stroke="#e4e4e4" stroke-width="1"/>
<line x1="889.4" y1="418.58" x2="1056.6" y2="418.58" stroke="#efefef" stroke-width="1"/>
<line x1="889.4" y1="399.51599999999996" x2="1056.6" y2="399.51599999999996" stroke="#e4e4e4" stroke-width="1"/>
<line x1="889.4" y1="380.452" x2="1056.6" y2="380.452" stroke="#efefef" stroke-width="1"/>
<line x1="889.4" y1="361.388" x2="1056.6" y2="361.388" stroke="#e4e4e4" stroke-width="1"/>
<line x1="889.4" y1="342.32399999999996" x2="1056.6" y2="342.32399999999996" stroke="#efefef" stroke-width="1"/>
<line x1="889.4" y1="323.26" x2="1056.6" y2="323.26" stroke="#e4e4e4" stroke-width="1"/>
<line x1="889.4" y1="304.19599999999997" x2="1056.6" y2="304.19599999999997" stroke="#efefef" stroke-width="1"/>
<line x1="889.4" y1="285.13199999999995" x2="1056.6" y2="285.13199999999995" stroke="#e4e4e4" stroke-width="1"/>
<line x1="889.4" y1="266.068" x2="1056.6" y2="266.068" stroke="#efefef" stroke-width="1"/>
<line x1="889.4" y1="247.00399999999996" x2="1056.6" y2="247.00399999999996" stroke="#e4e4e4" stroke-width="1"/>
<line x1="889.4" y1="513.9" x2="1056.6" y2="513.9" stroke="#cfcfcf" stroke-width="1"/>
<text x="884" y="516.1999999999999" font-size="6.5" fill="#444" text-anchor="end" font-weight="normal" >0</text>
<text x="884" y="478.07" font-size="6.5" fill="#444" text-anchor="end" font-weight="normal" >2bn</text>
<text x="884" y="439.94" font-size="6.5" fill="#444" text-anchor="end" font-weight="normal" >4bn</text>
<text x="884" y="401.81" font-size="6.5" fill="#444" text-anchor="end" font-weight="normal" >6bn</text>
<text x="884" y="363.68" font-size="6.5" fill="#444" text-anchor="end" font-weight="normal" >8bn</text>
<text x="884" y="325.55" font-size="6.5" fill="#444" text-anchor="end" font-weight="normal" >10bn</text>
<text x="884" y="287.41999999999996" font-size="6.5" fill="#444" text-anchor="end" font-weight="normal" >12bn</text>
<text x="884" y="249.28999999999996" font-size="6.5" fill="#444" text-anchor="end" font-weight="normal" >14bn</text>
<rect x="901.20" y="275.52" width="27.40" height="238.38" fill="#db3a2e" />
<line x1="914.9000000000001" y1="275.519816472848" x2="914.9000000000001" y2="269.519816472848" stroke="#999" stroke-width="0.7"/>
<text x="914.9000000000001" y="267.819816472848" font-size="6.5" fill="#db3a2e" text-anchor="middle" font-weight="normal" >12,504,206,018</text>
<text x="914.9000000000001" y="522.3" font-size="6.5" fill="#444" text-anchor="middle" font-weight="normal" >Denmark</text>
<rect x="940.00" y="362.19" width="27.40" height="151.71" fill="#f5b508" />
<line x1="953.7" y1="362.18861325005594" x2="953.7" y2="356.18861325005594" stroke="#999" stroke-width="0.7"/>
<text x="953.7" y="354.48861325005595" font-size="6.5" fill="#f5b508" text-anchor="middle" font-weight="normal" >7,958,003,921</text>
<text x="953.7" y="522.3" font-size="6.5" fill="#444" text-anchor="middle" font-weight="normal" >Sweden</text>
<rect x="978.80" y="424.05" width="27.40" height="89.85" fill="#9ad5f3" />
<line x1="992.5000000000001" y1="424.054478558496" x2="992.5000000000001" y2="418.054478558496" stroke="#999" stroke-width="0.7"/>
<text x="992.5000000000001" y="416.354478558496" font-size="6.5" fill="#8ecbf0" text-anchor="middle" font-weight="normal" >4,712,836,836</text>
<text x="992.5000000000001" y="522.3" font-size="6.5" fill="#444" text-anchor="middle" font-weight="normal" >Finland</text>
<rect x="1017.60" y="469.36" width="27.40" height="44.54" fill="#1a73e8" />
<line x1="1031.3" y1="469.35840689696795" x2="1031.3" y2="463.35840689696795" stroke="#999" stroke-width="0.7"/>
<text x="1031.3" y="461.65840689696796" font-size="6.5" fill="#1565c0" text-anchor="middle" font-weight="normal" >2,336,424,313</text>
<text x="1031.3" y="522.3" font-size="6.5" fill="#444" text-anchor="middle" font-weight="normal" >Norway</text>
<line x1="65" y1="611.5" x2="982.5" y2="611.5" stroke="#e0e0e0" stroke-width="1.1"/>
<line x1="65" y1="794" x2="982.5" y2="794" stroke="#e8e8e8" stroke-width="1"/>
<line x1="65" y1="780" x2="982.5" y2="780" stroke="#f1f1f1" stroke-width="1"/>
<line x1="65" y1="766" x2="982.5" y2="766" stroke="#e8e8e8" stroke-width="1"/>
<line x1="65" y1="752" x2="982.5" y2="752" stroke="#f1f1f1" stroke-width="1"/>
<line x1="65" y1="738" x2="982.5" y2="738" stroke="#e8e8e8" stroke-width="1"/>
<line x1="65" y1="724" x2="982.5" y2="724" stroke="#f1f1f1" stroke-width="1"/>
<line x1="65" y1="710" x2="982.5" y2="710" stroke="#e8e8e8" stroke-width="1"/>
<line x1="65" y1="696" x2="982.5" y2="696" stroke="#f1f1f1" stroke-width="1"/>
<line x1="65" y1="682" x2="982.5" y2="682" stroke="#e8e8e8" stroke-width="1"/>
<line x1="65" y1="668" x2="982.5" y2="668" stroke="#f1f1f1" stroke-width="1"/>
<line x1="65" y1="654" x2="982.5" y2="654" stroke="#e8e8e8" stroke-width="1"/>
<line x1="65" y1="640" x2="982.5" y2="640" stroke="#f1f1f1" stroke-width="1"/>
<line x1="65" y1="626" x2="982.5" y2="626" stroke="#e8e8e8" stroke-width="1"/>
<line x1="65" y1="794" x2="982.5" y2="794" stroke="#ccc" stroke-width="1"/>
<text x="59" y="796.5" font-size="6.5" fill="#444" text-anchor="end" font-weight="normal" >0</text>
<text x="59" y="768.5" font-size="6.5" fill="#444" text-anchor="end" font-weight="normal" >50</text>
<text x="59" y="740.5" font-size="6.5" fill="#444" text-anchor="end" font-weight="normal" >100</text>
<text x="59" y="712.5" font-size="6.5" fill="#444" text-anchor="end" font-weight="normal" >150</text>
<text x="59" y="684.5" font-size="6.5" fill="#444" text-anchor="end" font-weight="normal" >200</text>
<text x="59" y="656.5" font-size="6.5" fill="#444" text-anchor="end" font-weight="normal" >250</text>
<text x="59" y="628.5" font-size="6.5" fill="#444" text-anchor="end" font-weight="normal" >300</text>
<text x="988" y="796.5" font-size="6.4" fill="#444" text-anchor="start" font-weight="normal" >0</text>
<text x="988" y="766.67" font-size="6.4" fill="#444" text-anchor="start" font-weight="normal" >500,000,000</text>
<text x="988" y="736.84" font-size="6.4" fill="#444" text-anchor="start" font-weight="normal" >1,000,000,000</text>
<text x="988" y="707.01" font-size="6.4" fill="#444" text-anchor="start" font-weight="normal" >1,500,000,000</text>
<text x="988" y="677.1800000000001" font-size="6.4" fill="#444" text-anchor="start" font-weight="normal" >2,000,000,000</text>
<text x="988" y="647.35" font-size="6.4" fill="#444" text-anchor="start" font-weight="normal" >2,500,000,000</text>
<text x="988" y="617.52" font-size="6.4" fill="#444" text-anchor="start" font-weight="normal" >3,000,000,000</text>
<text x="41" y="702.5" font-size="6.6" fill="#444" text-anchor="middle" font-weight="normal" transform="rotate(-90 41 702.5)">Tender Count</text>
<text x="1039.8" y="702.5" font-size="6.6" fill="#444" text-anchor="middle" font-weight="normal" transform="rotate(-90 1039.5 702.5)">Tender Value (Sum)</text>
<defs><linearGradient id="gg" x1="0" y1="611" x2="0" y2="760" gradientUnits="userSpaceOnUse"><stop offset="0" stop-color="#43a047" stop-opacity=".2"/><stop offset="1" stop-color="#43a047" stop-opacity="0"/></linearGradient><linearGradient id="gr" x1="0" y1="611" x2="0" y2="790" gradientUnits="userSpaceOnUse"><stop offset="0" stop-color="#d81b60" stop-opacity=".2"/><stop offset="1" stop-color="#d81b60" stop-opacity="0"/></linearGradient></defs>
<path d="M79.0 753.0 L100.7 745.0 L122.3 753.0 L144.0 723.5 L165.7 725.0 L187.4 730.0 L209.0 737.5 L230.7 745.5 L252.4 726.5 L274.0 718.5 L295.7 722.0 L317.4 700.5 L339.0 700.5 L360.7 692.0 L382.4 716.5 L404.1 712.0 L425.7 726.5 L447.4 708.5 L469.1 718.0 L490.7 715.0 L512.4 716.0 L534.1 706.5 L555.7 706.5 L577.4 699.5 L599.1 697.5 L620.8 694.0 L642.4 707.0 L664.1 686.0 L685.8 708.0 L707.4 678.0 L729.1 693.0 L750.8 702.5 L772.4 666.5 L794.1 674.5 L815.8 683.0 L837.5 712.5 L859.1 628.0 L880.8 666.0 L902.5 655.5 L924.1 611.0 L945.8 652.5 L967.5 696.5 L967.5 794 L79.0 794 Z" fill="url(#gg)"/>
<path d="M79.0 790.0 L100.7 782.5 L122.3 790.0 L144.0 785.5 L165.7 781.0 L187.4 786.5 L209.0 786.5 L230.7 778.0 L252.4 781.0 L274.0 770.0 L295.7 768.5 L317.4 611.0 L339.0 770.0 L360.7 778.0 L382.4 778.0 L404.1 758.0 L425.7 765.0 L447.4 782.0 L469.1 780.5 L490.7 755.0 L512.4 768.0 L534.1 773.5 L555.7 747.0 L577.4 749.5 L599.1 746.5 L620.8 699.5 L642.4 731.5 L664.1 760.0 L685.8 741.0 L707.4 739.0 L729.1 728.5 L750.8 773.5 L772.4 645.0 L794.1 657.0 L815.8 737.0 L837.5 728.0 L859.1 612.5 L880.8 707.0 L902.5 697.0 L924.1 712.0 L945.8 630.5 L967.5 738.5 L967.5 794 L79.0 794 Z" fill="url(#gr)"/>
<path d="M79.0 753.0 L100.7 745.0 L122.3 753.0 L144.0 723.5 L165.7 725.0 L187.4 730.0 L209.0 737.5 L230.7 745.5 L252.4 726.5 L274.0 718.5 L295.7 722.0 L317.4 700.5 L339.0 700.5 L360.7 692.0 L382.4 716.5 L404.1 712.0 L425.7 726.5 L447.4 708.5 L469.1 718.0 L490.7 715.0 L512.4 716.0 L534.1 706.5 L555.7 706.5 L577.4 699.5 L599.1 697.5 L620.8 694.0 L642.4 707.0 L664.1 686.0 L685.8 708.0 L707.4 678.0 L729.1 693.0 L750.8 702.5 L772.4 666.5 L794.1 674.5 L815.8 683.0 L837.5 712.5 L859.1 628.0 L880.8 666.0 L902.5 655.5 L924.1 611.0 L945.8 652.5 L967.5 696.5" fill="none" stroke="#43a047" stroke-width="1.25" stroke-linejoin="round"/>
<path d="M79.0 790.0 L100.7 782.5 L122.3 790.0 L144.0 785.5 L165.7 781.0 L187.4 786.5 L209.0 786.5 L230.7 778.0 L252.4 781.0 L274.0 770.0 L295.7 768.5 L317.4 611.0 L339.0 770.0 L360.7 778.0 L382.4 778.0 L404.1 758.0 L425.7 765.0 L447.4 782.0 L469.1 780.5 L490.7 755.0 L512.4 768.0 L534.1 773.5 L555.7 747.0 L577.4 749.5 L599.1 746.5 L620.8 699.5 L642.4 731.5 L664.1 760.0 L685.8 741.0 L707.4 739.0 L729.1 728.5 L750.8 773.5 L772.4 645.0 L794.1 657.0 L815.8 737.0 L837.5 728.0 L859.1 612.5 L880.8 707.0 L902.5 697.0 L924.1 712.0 L945.8 630.5 L967.5 738.5" fill="none" stroke="#d81b60" stroke-width="1.25" stroke-linejoin="round"/>
<text x="79.0" y="803.3" font-size="6.4" fill="#444" text-anchor="middle" font-weight="normal" >Q1,</text>
<text x="79.0" y="811" font-size="6.4" fill="#444" text-anchor="middle" font-weight="normal" >2015</text>
<text x="100.7" y="803.3" font-size="6.4" fill="#444" text-anchor="middle" font-weight="normal" >Q2,</text>
<text x="100.7" y="811" font-size="6.4" fill="#444" text-anchor="middle" font-weight="normal" >2015</text>
<text x="122.3" y="803.3" font-size="6.4" fill="#444" text-anchor="middle" font-weight="normal" >Q3,</text>
<text x="122.3" y="811" font-size="6.4" fill="#444" text-anchor="middle" font-weight="normal" >2015</text>
<text x="144.0" y="803.3" font-size="6.4" fill="#444" text-anchor="middle" font-weight="normal" >Q4,</text>
<text x="144.0" y="811" font-size="6.4" fill="#444" text-anchor="middle" font-weight="normal" >2015</text>
<text x="165.7" y="803.3" font-size="6.4" fill="#444" text-anchor="middle" font-weight="normal" >Q1,</text>
<text x="165.7" y="811" font-size="6.4" fill="#444" text-anchor="middle" font-weight="normal" >2016</text>
<text x="187.4" y="803.3" font-size="6.4" fill="#444" text-anchor="middle" font-weight="normal" >Q2,</text>
<text x="187.4" y="811" font-size="6.4" fill="#444" text-anchor="middle" font-weight="normal" >2016</text>
<text x="209.0" y="803.3" font-size="6.4" fill="#444" text-anchor="middle" font-weight="normal" >Q3,</text>
<text x="209.0" y="811" font-size="6.4" fill="#444" text-anchor="middle" font-weight="normal" >2016</text>
<text x="230.7" y="803.3" font-size="6.4" fill="#444" text-anchor="middle" font-weight="normal" >Q4,</text>
<text x="230.7" y="811" font-size="6.4" fill="#444" text-anchor="middle" font-weight="normal" >2016</text>
<text x="252.4" y="803.3" font-size="6.4" fill="#444" text-anchor="middle" font-weight="normal" >Q1,</text>
<text x="252.4" y="811" font-size="6.4" fill="#444" text-anchor="middle" font-weight="normal" >2017</text>
<text x="274.0" y="803.3" font-size="6.4" fill="#444" text-anchor="middle" font-weight="normal" >Q2,</text>
<text x="274.0" y="811" font-size="6.4" fill="#444" text-anchor="middle" font-weight="normal" >2017</text>
<text x="295.7" y="803.3" font-size="6.4" fill="#444" text-anchor="middle" font-weight="normal" >Q3,</text>
<text x="295.7" y="811" font-size="6.4" fill="#444" text-anchor="middle" font-weight="normal" >2017</text>
<text x="317.4" y="803.3" font-size="6.4" fill="#444" text-anchor="middle" font-weight="normal" >Q4,</text>
<text x="317.4" y="811" font-size="6.4" fill="#444" text-anchor="middle" font-weight="normal" >2017</text>
<text x="339.0" y="803.3" font-size="6.4" fill="#444" text-anchor="middle" font-weight="normal" >Q1,</text>
<text x="339.0" y="811" font-size="6.4" fill="#444" text-anchor="middle" font-weight="normal" >2018</text>
<text x="360.7" y="803.3" font-size="6.4" fill="#444" text-anchor="middle" font-weight="normal" >Q2,</text>
<text x="360.7" y="811" font-size="6.4" fill="#444" text-anchor="middle" font-weight="normal" >2018</text>
<text x="382.4" y="803.3" font-size="6.4" fill="#444" text-anchor="middle" font-weight="normal" >Q3,</text>
<text x="382.4" y="811" font-size="6.4" fill="#444" text-anchor="middle" font-weight="normal" >2018</text>
<text x="404.1" y="803.3" font-size="6.4" fill="#444" text-anchor="middle" font-weight="normal" >Q4,</text>
<text x="404.1" y="811" font-size="6.4" fill="#444" text-anchor="middle" font-weight="normal" >2018</text>
<text x="425.7" y="803.3" font-size="6.4" fill="#444" text-anchor="middle" font-weight="normal" >Q1,</text>
<text x="425.7" y="811" font-size="6.4" fill="#444" text-anchor="middle" font-weight="normal" >2019</text>
<text x="447.4" y="803.3" font-size="6.4" fill="#444" text-anchor="middle" font-weight="normal" >Q2,</text>
<text x="447.4" y="811" font-size="6.4" fill="#444" text-anchor="middle" font-weight="normal" >2019</text>
<text x="469.1" y="803.3" font-size="6.4" fill="#444" text-anchor="middle" font-weight="normal" >Q3,</text>
<text x="469.1" y="811" font-size="6.4" fill="#444" text-anchor="middle" font-weight="normal" >2019</text>
<text x="490.7" y="803.3" font-size="6.4" fill="#444" text-anchor="middle" font-weight="normal" >Q4,</text>
<text x="490.7" y="811" font-size="6.4" fill="#444" text-anchor="middle" font-weight="normal" >2019</text>
<text x="512.4" y="803.3" font-size="6.4" fill="#444" text-anchor="middle" font-weight="normal" >Q1,</text>
<text x="512.4" y="811" font-size="6.4" fill="#444" text-anchor="middle" font-weight="normal" >2020</text>
<text x="534.1" y="803.3" font-size="6.4" fill="#444" text-anchor="middle" font-weight="normal" >Q2,</text>
<text x="534.1" y="811" font-size="6.4" fill="#444" text-anchor="middle" font-weight="normal" >2020</text>
<text x="555.7" y="803.3" font-size="6.4" fill="#444" text-anchor="middle" font-weight="normal" >Q3,</text>
<text x="555.7" y="811" font-size="6.4" fill="#444" text-anchor="middle" font-weight="normal" >2020</text>
<text x="577.4" y="803.3" font-size="6.4" fill="#444" text-anchor="middle" font-weight="normal" >Q4,</text>
<text x="577.4" y="811" font-size="6.4" fill="#444" text-anchor="middle" font-weight="normal" >2020</text>
<text x="599.1" y="803.3" font-size="6.4" fill="#444" text-anchor="middle" font-weight="normal" >Q1,</text>
<text x="599.1" y="811" font-size="6.4" fill="#444" text-anchor="middle" font-weight="normal" >2021</text>
<text x="620.8" y="803.3" font-size="6.4" fill="#444" text-anchor="middle" font-weight="normal" >Q2,</text>
<text x="620.8" y="811" font-size="6.4" fill="#444" text-anchor="middle" font-weight="normal" >2021</text>
<text x="642.4" y="803.3" font-size="6.4" fill="#444" text-anchor="middle" font-weight="normal" >Q3,</text>
<text x="642.4" y="811" font-size="6.4" fill="#444" text-anchor="middle" font-weight="normal" >2021</text>
<text x="664.1" y="803.3" font-size="6.4" fill="#444" text-anchor="middle" font-weight="normal" >Q4,</text>
<text x="664.1" y="811" font-size="6.4" fill="#444" text-anchor="middle" font-weight="normal" >2021</text>
<text x="685.8" y="803.3" font-size="6.4" fill="#444" text-anchor="middle" font-weight="normal" >Q1,</text>
<text x="685.8" y="811" font-size="6.4" fill="#444" text-anchor="middle" font-weight="normal" >2022</text>
<text x="707.4" y="803.3" font-size="6.4" fill="#444" text-anchor="middle" font-weight="normal" >Q2,</text>
<text x="707.4" y="811" font-size="6.4" fill="#444" text-anchor="middle" font-weight="normal" >2022</text>
<text x="729.1" y="803.3" font-size="6.4" fill="#444" text-anchor="middle" font-weight="normal" >Q3,</text>
<text x="729.1" y="811" font-size="6.4" fill="#444" text-anchor="middle" font-weight="normal" >2022</text>
<text x="750.8" y="803.3" font-size="6.4" fill="#444" text-anchor="middle" font-weight="normal" >Q4,</text>
<text x="750.8" y="811" font-size="6.4" fill="#444" text-anchor="middle" font-weight="normal" >2022</text>
<text x="772.4" y="803.3" font-size="6.4" fill="#444" text-anchor="middle" font-weight="normal" >Q1,</text>
<text x="772.4" y="811" font-size="6.4" fill="#444" text-anchor="middle" font-weight="normal" >2023</text>
<text x="794.1" y="803.3" font-size="6.4" fill="#444" text-anchor="middle" font-weight="normal" >Q2,</text>
<text x="794.1" y="811" font-size="6.4" fill="#444" text-anchor="middle" font-weight="normal" >2023</text>
<text x="815.8" y="803.3" font-size="6.4" fill="#444" text-anchor="middle" font-weight="normal" >Q3,</text>
<text x="815.8" y="811" font-size="6.4" fill="#444" text-anchor="middle" font-weight="normal" >2023</text>
<text x="837.5" y="803.3" font-size="6.4" fill="#444" text-anchor="middle" font-weight="normal" >Q4,</text>
<text x="837.5" y="811" font-size="6.4" fill="#444" text-anchor="middle" font-weight="normal" >2023</text>
<text x="859.1" y="803.3" font-size="6.4" fill="#444" text-anchor="middle" font-weight="normal" >Q1,</text>
<text x="859.1" y="811" font-size="6.4" fill="#444" text-anchor="middle" font-weight="normal" >2024</text>
<text x="880.8" y="803.3" font-size="6.4" fill="#444" text-anchor="middle" font-weight="normal" >Q2,</text>
<text x="880.8" y="811" font-size="6.4" fill="#444" text-anchor="middle" font-weight="normal" >2024</text>
<text x="902.5" y="803.3" font-size="6.4" fill="#444" text-anchor="middle" font-weight="normal" >Q3,</text>
<text x="902.5" y="811" font-size="6.4" fill="#444" text-anchor="middle" font-weight="normal" >2024</text>
<text x="924.1" y="803.3" font-size="6.4" fill="#444" text-anchor="middle" font-weight="normal" >Q4,</text>
<text x="924.1" y="811" font-size="6.4" fill="#444" text-anchor="middle" font-weight="normal" >2024</text>
<text x="945.8" y="803.3" font-size="6.4" fill="#444" text-anchor="middle" font-weight="normal" >Q1,</text>
<text x="945.8" y="811" font-size="6.4" fill="#444" text-anchor="middle" font-weight="normal" >2025</text>
<text x="967.5" y="803.3" font-size="6.4" fill="#444" text-anchor="middle" font-weight="normal" >Q2,</text>
<text x="967.5" y="811" font-size="6.4" fill="#444" text-anchor="middle" font-weight="normal" >2025</text>
<line x1="446" y1="825.5" x2="461" y2="825.5" stroke="#5cb060" stroke-width="1.5"/>
<text x="464.5" y="828" font-size="7.55" fill="#444" text-anchor="start" font-weight="normal" >Tender Count</text>
<line x1="517" y1="825.5" x2="531.5" y2="825.5" stroke="#e04a7f" stroke-width="1.5"/>
<text x="535" y="828" font-size="7.55" fill="#444" text-anchor="start" font-weight="normal" >Tender Value (Sum)</text>
<text x="535" y="900.6" font-size="20.7" fill="#202124" text-anchor="middle" font-weight="bold" >PURCHASE CATEGORY ANALYTICS</text>
<text x="79" y="952" font-size="9.8" fill="#202124" text-anchor="start" font-weight="bold" >Number of tenders per broad purchase category</text>
<text x="558" y="952" font-size="9.8" fill="#202124" text-anchor="start" font-weight="bold" >Contract value per broad purchase category</text>
<line x1="179.0" y1="970.8" x2="179.0" y2="976" stroke="#c4c4c4" stroke-width="0.9"/>
<line x1="195.8" y1="970.8" x2="195.8" y2="976" stroke="#e6e6e6" stroke-width="0.9"/>
<line x1="212.6" y1="970.8" x2="212.6" y2="976" stroke="#e6e6e6" stroke-width="0.9"/>
<line x1="229.4" y1="970.8" x2="229.4" y2="976" stroke="#e6e6e6" stroke-width="0.9"/>
<line x1="246.2" y1="970.8" x2="246.2" y2="976" stroke="#e6e6e6" stroke-width="0.9"/>
<line x1="263.0" y1="970.8" x2="263.0" y2="976" stroke="#e6e6e6" stroke-width="0.9"/>
<line x1="279.8" y1="970.8" x2="279.8" y2="976" stroke="#e6e6e6" stroke-width="0.9"/>
<line x1="296.6" y1="970.8" x2="296.6" y2="976" stroke="#e6e6e6" stroke-width="0.9"/>
<line x1="313.4" y1="970.8" x2="313.4" y2="976" stroke="#e6e6e6" stroke-width="0.9"/>
<line x1="330.20000000000005" y1="970.8" x2="330.20000000000005" y2="976" stroke="#e6e6e6" stroke-width="0.9"/>
<line x1="347.0" y1="970.8" x2="347.0" y2="976" stroke="#e6e6e6" stroke-width="0.9"/>
<line x1="363.8" y1="970.8" x2="363.8" y2="976" stroke="#e6e6e6" stroke-width="0.9"/>
<line x1="380.6" y1="970.8" x2="380.6" y2="976" stroke="#e6e6e6" stroke-width="0.9"/>
<line x1="397.4" y1="970.8" x2="397.4" y2="976" stroke="#e6e6e6" stroke-width="0.9"/>
<line x1="414.20000000000005" y1="970.8" x2="414.20000000000005" y2="976" stroke="#e6e6e6" stroke-width="0.9"/>
<line x1="431.0" y1="970.8" x2="431.0" y2="976" stroke="#e6e6e6" stroke-width="0.9"/>
<line x1="447.8" y1="970.8" x2="447.8" y2="976" stroke="#e6e6e6" stroke-width="0.9"/>
<line x1="464.6" y1="970.8" x2="464.6" y2="976" stroke="#e6e6e6" stroke-width="0.9"/>
<line x1="481.40000000000003" y1="970.8" x2="481.40000000000003" y2="976" stroke="#e6e6e6" stroke-width="0.9"/>
<line x1="498.2" y1="970.8" x2="498.2" y2="976" stroke="#e6e6e6" stroke-width="0.9"/>
<line x1="515.0" y1="970.8" x2="515.0" y2="976" stroke="#e6e6e6" stroke-width="0.9"/>
<line x1="658.3" y1="970.8" x2="658.3" y2="976" stroke="#c4c4c4" stroke-width="0.9"/>
<line x1="686.27" y1="970.8" x2="686.27" y2="976" stroke="#e6e6e6" stroke-width="0.9"/>
<line x1="714.24" y1="970.8" x2="714.24" y2="976" stroke="#e6e6e6" stroke-width="0.9"/>
<line x1="742.2099999999999" y1="970.8" x2="742.2099999999999" y2="976" stroke="#e6e6e6" stroke-width="0.9"/>
<line x1="770.18" y1="970.8" x2="770.18" y2="976" stroke="#e6e6e6" stroke-width="0.9"/>
<line x1="798.15" y1="970.8" x2="798.15" y2="976" stroke="#e6e6e6" stroke-width="0.9"/>
<line x1="826.1199999999999" y1="970.8" x2="826.1199999999999" y2="976" stroke="#e6e6e6" stroke-width="0.9"/>
<line x1="854.0899999999999" y1="970.8" x2="854.0899999999999" y2="976" stroke="#e6e6e6" stroke-width="0.9"/>
<line x1="882.06" y1="970.8" x2="882.06" y2="976" stroke="#e6e6e6" stroke-width="0.9"/>
<line x1="910.03" y1="970.8" x2="910.03" y2="976" stroke="#e6e6e6" stroke-width="0.9"/>
<line x1="938.0" y1="970.8" x2="938.0" y2="976" stroke="#e6e6e6" stroke-width="0.9"/>
<line x1="965.9699999999999" y1="970.8" x2="965.9699999999999" y2="976" stroke="#e6e6e6" stroke-width="0.9"/>
<line x1="993.9399999999999" y1="970.8" x2="993.9399999999999" y2="976" stroke="#e6e6e6" stroke-width="0.9"/></svg><div class="abs" style="left:44.5px;top:871px;width:165px;height:42px;border:1px solid #e0e0e0;border-radius:3px;background:#fff;box-shadow:0 1px 2px rgba(0,0,0,.18)">
<div class="abs" style="left:12.500px;top:6px;font-size:7.67px;line-height:10px;color:#202124;white-space:nowrap">Keyword filter</div>
<div class="abs" style="left:13.500px;top:21px;font-size:7.55px;line-height:10px;color:#bdbdbd;white-space:nowrap">Enter a value</div>
<div class="abs" style="left:12.500px;top:34px;width:138px;height:1px;background:#d8d8d8"></div></div>
</div></body></html>
